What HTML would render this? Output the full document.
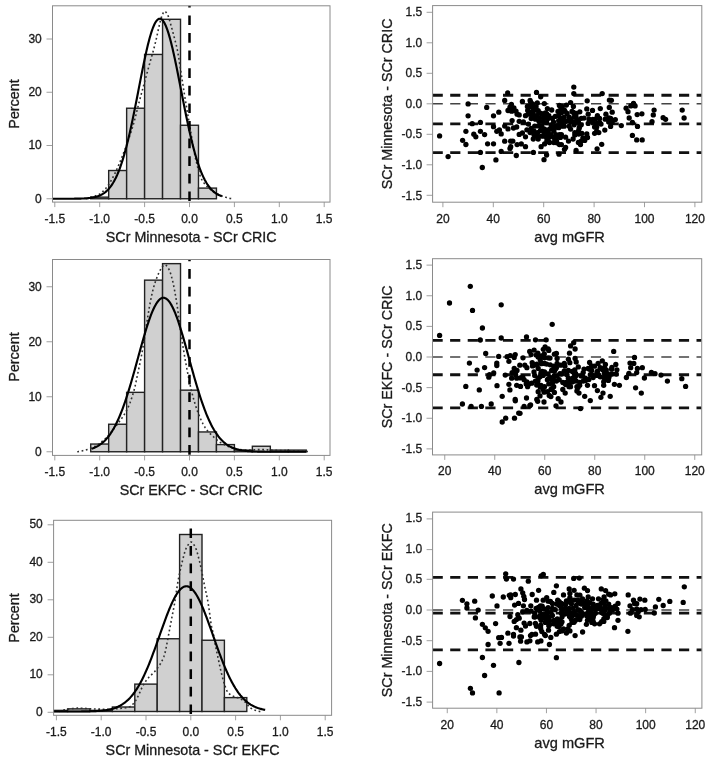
<!DOCTYPE html>
<html><head><meta charset="utf-8"><title>Figure</title>
<style>html,body{margin:0;padding:0;background:#fff}svg{display:block}</style></head>
<body>
<svg width="708" height="760" viewBox="0 0 708 760" font-family="'Liberation Sans', sans-serif" >
<rect width="708" height="760" fill="#fff"/>
<style>text{stroke:#1a1a1a;stroke-width:0.3px}</style>
<clipPath id="c1"><rect x="52.5" y="5.8" width="277.5" height="196.29999999999998"/></clipPath>
<line x1="54.80" y1="202.1" x2="54.80" y2="207.1" stroke="#a0a0a0" stroke-width="1"/>
<text x="54.80" y="222.5" font-size="12" text-anchor="middle" fill="#1a1a1a">-1.5</text>
<line x1="99.70" y1="202.1" x2="99.70" y2="207.1" stroke="#a0a0a0" stroke-width="1"/>
<text x="99.70" y="222.5" font-size="12" text-anchor="middle" fill="#1a1a1a">-1.0</text>
<line x1="144.60" y1="202.1" x2="144.60" y2="207.1" stroke="#a0a0a0" stroke-width="1"/>
<text x="144.60" y="222.5" font-size="12" text-anchor="middle" fill="#1a1a1a">-0.5</text>
<line x1="189.50" y1="202.1" x2="189.50" y2="207.1" stroke="#a0a0a0" stroke-width="1"/>
<text x="189.50" y="222.5" font-size="12" text-anchor="middle" fill="#1a1a1a">0.0</text>
<line x1="234.40" y1="202.1" x2="234.40" y2="207.1" stroke="#a0a0a0" stroke-width="1"/>
<text x="234.40" y="222.5" font-size="12" text-anchor="middle" fill="#1a1a1a">0.5</text>
<line x1="279.30" y1="202.1" x2="279.30" y2="207.1" stroke="#a0a0a0" stroke-width="1"/>
<text x="279.30" y="222.5" font-size="12" text-anchor="middle" fill="#1a1a1a">1.0</text>
<line x1="324.20" y1="202.1" x2="324.20" y2="207.1" stroke="#a0a0a0" stroke-width="1"/>
<text x="324.20" y="222.5" font-size="12" text-anchor="middle" fill="#1a1a1a">1.5</text>
<line x1="46.5" y1="198.75" x2="52.5" y2="198.75" stroke="#a0a0a0" stroke-width="1"/>
<text x="41.8" y="202.55" font-size="12" text-anchor="end" fill="#1a1a1a">0</text>
<line x1="46.5" y1="145.50" x2="52.5" y2="145.50" stroke="#a0a0a0" stroke-width="1"/>
<text x="41.8" y="149.30" font-size="12" text-anchor="end" fill="#1a1a1a">10</text>
<line x1="46.5" y1="92.25" x2="52.5" y2="92.25" stroke="#a0a0a0" stroke-width="1"/>
<text x="41.8" y="96.05" font-size="12" text-anchor="end" fill="#1a1a1a">20</text>
<line x1="46.5" y1="39.00" x2="52.5" y2="39.00" stroke="#a0a0a0" stroke-width="1"/>
<text x="41.8" y="42.80" font-size="12" text-anchor="end" fill="#1a1a1a">30</text>
<text x="191.2" y="241.8" font-size="14.3" text-anchor="middle" fill="#1a1a1a">SCr Minnesota - SCr CRIC</text>
<text transform="translate(18.6,104) rotate(-90)" font-size="14.3" text-anchor="middle" fill="#1a1a1a">Percent</text>
<g clip-path="url(#c1)">
<rect x="90.72" y="197.15" width="17.96" height="1.60" fill="#d0d0d0" stroke="#222" stroke-width="1.4"/>
<rect x="108.68" y="170.53" width="17.96" height="28.22" fill="#d0d0d0" stroke="#222" stroke-width="1.4"/>
<rect x="126.64" y="108.22" width="17.96" height="90.53" fill="#d0d0d0" stroke="#222" stroke-width="1.4"/>
<rect x="144.60" y="54.44" width="17.96" height="144.31" fill="#d0d0d0" stroke="#222" stroke-width="1.4"/>
<rect x="162.56" y="19.30" width="17.96" height="179.45" fill="#d0d0d0" stroke="#222" stroke-width="1.4"/>
<rect x="180.52" y="125.27" width="17.96" height="73.48" fill="#d0d0d0" stroke="#222" stroke-width="1.4"/>
<rect x="198.48" y="188.10" width="17.96" height="10.65" fill="#d0d0d0" stroke="#222" stroke-width="1.4"/>
<polyline points="86.23,198.75 86.71,198.63 87.20,198.50 87.68,198.38 88.17,198.24 88.65,198.10 89.14,197.96 89.62,197.82 90.11,197.67 90.59,197.52 91.08,197.36 91.56,197.21 92.05,197.04 92.53,196.88 93.02,196.72 93.50,196.55 93.99,196.39 94.47,196.22 94.96,196.05 95.44,195.87 95.93,195.69 96.41,195.51 96.90,195.31 97.38,195.11 97.87,194.89 98.35,194.66 98.84,194.42 99.32,194.17 99.81,193.90 100.29,193.60 100.78,193.26 101.26,192.90 101.75,192.51 102.23,192.10 102.72,191.66 103.20,191.20 103.69,190.72 104.17,190.21 104.66,189.70 105.14,189.16 105.63,188.62 106.11,188.06 106.60,187.47 107.08,186.85 107.57,186.20 108.05,185.51 108.54,184.80 109.02,184.06 109.51,183.29 109.99,182.49 110.48,181.68 110.96,180.84 111.45,179.99 111.93,179.12 112.42,178.24 112.90,177.34 113.39,176.44 113.87,175.52 114.36,174.59 114.84,173.63 115.33,172.63 115.81,171.61 116.30,170.55 116.78,169.47 117.26,168.37 117.75,167.25 118.23,166.11 118.72,164.96 119.20,163.79 119.69,162.62 120.17,161.44 120.66,160.26 121.14,159.08 121.63,157.89 122.11,156.69 122.60,155.48 123.08,154.26 123.57,153.02 124.05,151.76 124.54,150.50 125.02,149.22 125.51,147.92 125.99,146.60 126.48,145.27 126.96,143.93 127.45,142.56 127.93,141.18 128.42,139.78 128.90,138.38 129.39,136.95 129.87,135.51 130.36,134.04 130.84,132.56 131.33,131.05 131.81,129.51 132.30,127.95 132.78,126.36 133.27,124.73 133.75,123.07 134.24,121.36 134.72,119.57 135.21,117.72 135.69,115.82 136.18,113.90 136.66,111.95 137.15,109.99 137.63,108.03 138.12,106.09 138.60,104.18 139.09,102.31 139.57,100.48 140.06,98.68 140.54,96.89 141.03,95.10 141.51,93.33 142.00,91.56 142.48,89.80 142.97,88.03 143.45,86.25 143.94,84.47 144.42,82.67 144.91,80.88 145.39,79.08 145.88,77.28 146.36,75.49 146.84,73.70 147.33,71.93 147.81,70.17 148.30,68.42 148.78,66.69 149.27,64.96 149.75,63.24 150.24,61.52 150.72,59.81 151.21,58.10 151.69,56.42 152.18,54.75 152.66,53.05 153.15,51.31 153.63,49.51 154.12,47.67 154.60,45.79 155.09,43.87 155.57,41.91 156.06,39.91 156.54,37.83 157.03,35.63 157.51,33.35 158.00,31.06 158.48,28.84 158.97,26.75 159.45,24.72 159.94,22.68 160.42,20.71 160.91,18.90 161.39,17.35 161.88,16.10 162.36,14.88 162.85,13.72 163.33,12.69 163.82,11.89 164.30,11.41 164.79,11.33 165.27,11.54 165.76,11.97 166.24,12.56 166.73,13.27 167.21,14.04 167.70,14.86 168.18,15.95 168.67,17.33 169.15,18.89 169.64,20.58 170.12,22.29 170.61,23.97 171.09,25.62 171.58,27.33 172.06,29.10 172.55,30.91 173.03,32.75 173.52,34.62 174.00,36.50 174.49,38.37 174.97,40.21 175.46,42.04 175.94,43.92 176.43,45.87 176.91,47.95 177.39,50.19 177.88,52.68 178.36,55.47 178.85,58.48 179.33,61.62 179.82,64.82 180.30,67.98 180.79,71.06 181.27,74.18 181.76,77.32 182.24,80.48 182.73,83.63 183.21,86.75 183.70,89.81 184.18,92.83 184.67,95.81 185.15,98.78 185.64,101.72 186.12,104.64 186.61,107.55 187.09,110.45 187.58,113.34 188.06,116.22 188.55,119.09 189.03,121.94 189.52,124.78 190.00,127.60 190.49,130.39 190.97,133.17 191.46,136.00 191.94,138.88 192.43,141.77 192.91,144.64 193.40,147.46 193.88,150.19 194.37,152.80 194.85,155.25 195.34,157.50 195.82,159.57 196.31,161.62 196.79,163.63 197.28,165.61 197.76,167.53 198.25,169.39 198.73,171.16 199.22,172.84 199.70,174.41 200.19,175.86 200.67,177.18 201.16,178.34 201.64,179.34 202.13,180.18 202.61,180.97 203.10,181.71 203.58,182.42 204.07,183.10 204.55,183.74 205.04,184.35 205.52,184.93 206.01,185.49 206.49,186.02 206.98,186.52 207.46,187.00 207.94,187.46 208.43,187.90 208.91,188.32 209.40,188.72 209.88,189.11 210.37,189.49 210.85,189.85 211.34,190.20 211.82,190.55 212.31,190.89 212.79,191.22 213.28,191.54 213.76,191.85 214.25,192.15 214.73,192.45 215.22,192.73 215.70,193.01 216.19,193.29 216.67,193.55 217.16,193.80 217.64,194.05 218.13,194.29 218.61,194.53 219.10,194.76 219.58,194.98 220.07,195.19 220.55,195.40 221.04,195.60 221.52,195.79 222.01,195.98 222.49,196.16 222.98,196.34 223.46,196.51 223.95,196.68 224.43,196.84 224.92,197.00 225.40,197.16 225.89,197.31 226.37,197.46 226.86,197.60 227.34,197.74 227.83,197.88 228.31,198.01 228.80,198.13 229.28,198.25 229.77,198.36 230.25,198.47 230.74,198.57 231.22,198.66 231.71,198.75" fill="none" stroke="#303030" stroke-width="1.6" stroke-dasharray="1.8 2.6"/>
<polyline points="45.82,198.75 46.41,198.75 46.99,198.75 47.58,198.75 48.17,198.75 48.75,198.75 49.34,198.75 49.93,198.75 50.51,198.75 51.10,198.75 51.69,198.75 52.27,198.75 52.86,198.75 53.45,198.75 54.03,198.75 54.62,198.75 55.21,198.75 55.79,198.75 56.38,198.75 56.97,198.75 57.55,198.75 58.14,198.75 58.73,198.75 59.31,198.75 59.90,198.75 60.49,198.75 61.07,198.75 61.66,198.75 62.25,198.75 62.83,198.74 63.42,198.74 64.01,198.74 64.59,198.74 65.18,198.74 65.77,198.74 66.35,198.74 66.94,198.74 67.53,198.74 68.11,198.73 68.70,198.73 69.29,198.73 69.87,198.73 70.46,198.72 71.05,198.72 71.63,198.72 72.22,198.71 72.81,198.71 73.39,198.71 73.98,198.70 74.57,198.69 75.15,198.69 75.74,198.68 76.33,198.67 76.91,198.66 77.50,198.65 78.09,198.64 78.67,198.63 79.26,198.62 79.85,198.60 80.43,198.59 81.02,198.57 81.61,198.55 82.19,198.53 82.78,198.50 83.37,198.48 83.96,198.45 84.54,198.42 85.13,198.39 85.72,198.35 86.30,198.31 86.89,198.26 87.48,198.22 88.06,198.16 88.65,198.11 89.24,198.04 89.82,197.97 90.41,197.90 91.00,197.82 91.58,197.73 92.17,197.64 92.76,197.54 93.34,197.43 93.93,197.31 94.52,197.18 95.10,197.04 95.69,196.89 96.28,196.73 96.86,196.55 97.45,196.37 98.04,196.17 98.62,195.95 99.21,195.72 99.80,195.47 100.38,195.20 100.97,194.92 101.56,194.61 102.14,194.29 102.73,193.94 103.32,193.57 103.90,193.18 104.49,192.76 105.08,192.31 105.66,191.84 106.25,191.33 106.84,190.80 107.42,190.23 108.01,189.64 108.60,189.00 109.18,188.33 109.77,187.62 110.36,186.88 110.94,186.09 111.53,185.26 112.12,184.39 112.70,183.47 113.29,182.51 113.88,181.50 114.46,180.44 115.05,179.33 115.64,178.17 116.22,176.96 116.81,175.69 117.40,174.37 117.98,172.99 118.57,171.56 119.16,170.07 119.74,168.51 120.33,166.90 120.92,165.23 121.50,163.50 122.09,161.71 122.68,159.85 123.26,157.94 123.85,155.96 124.44,153.92 125.02,151.82 125.61,149.66 126.20,147.44 126.78,145.16 127.37,142.82 127.96,140.43 128.54,137.97 129.13,135.47 129.72,132.91 130.30,130.30 130.89,127.64 131.48,124.93 132.06,122.18 132.65,119.39 133.24,116.56 133.82,113.69 134.41,110.79 135.00,107.86 135.58,104.91 136.17,101.93 136.76,98.94 137.34,95.93 137.93,92.92 138.52,89.89 139.10,86.87 139.69,83.85 140.28,80.85 140.86,77.85 141.45,74.87 142.04,71.92 142.62,69.00 143.21,66.11 143.80,63.26 144.38,60.45 144.97,57.70 145.56,55.00 146.14,52.36 146.73,49.79 147.32,47.29 147.90,44.86 148.49,42.52 149.08,40.26 149.66,38.09 150.25,36.01 150.84,34.04 151.42,32.17 152.01,30.41 152.60,28.75 153.18,27.22 153.77,25.80 154.36,24.51 154.94,23.34 155.53,22.29 156.12,21.38 156.71,20.60 157.29,19.95 157.88,19.44 158.47,19.06 159.05,18.82 159.64,18.72 160.23,18.76 160.81,18.93 161.40,19.25 161.99,19.69 162.57,20.28 163.16,21.00 163.75,21.85 164.33,22.83 164.92,23.94 165.51,25.18 166.09,26.54 166.68,28.02 167.27,29.62 167.85,31.33 168.44,33.15 169.03,35.07 169.61,37.10 170.20,39.23 170.79,41.44 171.37,43.75 171.96,46.14 172.55,48.61 173.13,51.15 173.72,53.75 174.31,56.43 174.89,59.15 175.48,61.94 176.07,64.77 176.65,67.64 177.24,70.54 177.83,73.48 178.41,76.45 179.00,79.44 179.59,82.44 180.17,85.46 180.76,88.48 181.35,91.50 181.93,94.52 182.52,97.53 183.11,100.53 183.69,103.52 184.28,106.48 184.87,109.42 185.45,112.33 186.04,115.22 186.63,118.07 187.21,120.88 187.80,123.65 188.39,126.37 188.97,129.06 189.56,131.69 190.15,134.27 190.73,136.80 191.32,139.28 191.91,141.70 192.49,144.07 193.08,146.38 193.67,148.63 194.25,150.82 194.84,152.94 195.43,155.01 196.01,157.02 196.60,158.96 197.19,160.85 197.77,162.67 198.36,164.43 198.95,166.13 199.53,167.77 200.12,169.35 200.71,170.87 201.29,172.33 201.88,173.73 202.47,175.08 203.05,176.37 203.64,177.61 204.23,178.80 204.81,179.93 205.40,181.01 205.99,182.04 206.57,183.03 207.16,183.97 207.75,184.86 208.33,185.71 208.92,186.51 209.51,187.28 210.09,188.00 210.68,188.69 211.27,189.34 211.85,189.96 212.44,190.54 213.03,191.09 213.61,191.61 214.20,192.09 214.79,192.55 215.37,192.98 215.96,193.39 216.55,193.77 217.13,194.13 217.72,194.46 218.31,194.78 218.89,195.07 219.48,195.35 220.07,195.60 220.65,195.84 221.24,196.07 221.83,196.27" fill="none" stroke="#000" stroke-width="2.15" stroke-linejoin="round"/>
<line x1="189.50" y1="-2.2" x2="189.50" y2="202.1" stroke="#000" stroke-width="2.5" stroke-dasharray="9.7 7.9"/>
</g>
<rect x="52.5" y="5.8" width="277.5" height="196.29999999999998" fill="none" stroke="#8a8a8a" stroke-width="1"/>
<clipPath id="c2"><rect x="52.5" y="259.5" width="277.5" height="195.89999999999998"/></clipPath>
<line x1="54.80" y1="455.4" x2="54.80" y2="460.4" stroke="#a0a0a0" stroke-width="1"/>
<text x="54.80" y="475.5" font-size="12" text-anchor="middle" fill="#1a1a1a">-1.5</text>
<line x1="99.70" y1="455.4" x2="99.70" y2="460.4" stroke="#a0a0a0" stroke-width="1"/>
<text x="99.70" y="475.5" font-size="12" text-anchor="middle" fill="#1a1a1a">-1.0</text>
<line x1="144.60" y1="455.4" x2="144.60" y2="460.4" stroke="#a0a0a0" stroke-width="1"/>
<text x="144.60" y="475.5" font-size="12" text-anchor="middle" fill="#1a1a1a">-0.5</text>
<line x1="189.50" y1="455.4" x2="189.50" y2="460.4" stroke="#a0a0a0" stroke-width="1"/>
<text x="189.50" y="475.5" font-size="12" text-anchor="middle" fill="#1a1a1a">0.0</text>
<line x1="234.40" y1="455.4" x2="234.40" y2="460.4" stroke="#a0a0a0" stroke-width="1"/>
<text x="234.40" y="475.5" font-size="12" text-anchor="middle" fill="#1a1a1a">0.5</text>
<line x1="279.30" y1="455.4" x2="279.30" y2="460.4" stroke="#a0a0a0" stroke-width="1"/>
<text x="279.30" y="475.5" font-size="12" text-anchor="middle" fill="#1a1a1a">1.0</text>
<line x1="324.20" y1="455.4" x2="324.20" y2="460.4" stroke="#a0a0a0" stroke-width="1"/>
<text x="324.20" y="475.5" font-size="12" text-anchor="middle" fill="#1a1a1a">1.5</text>
<line x1="46.5" y1="451.75" x2="52.5" y2="451.75" stroke="#a0a0a0" stroke-width="1"/>
<text x="41.8" y="455.55" font-size="12" text-anchor="end" fill="#1a1a1a">0</text>
<line x1="46.5" y1="396.75" x2="52.5" y2="396.75" stroke="#a0a0a0" stroke-width="1"/>
<text x="41.8" y="400.55" font-size="12" text-anchor="end" fill="#1a1a1a">10</text>
<line x1="46.5" y1="341.75" x2="52.5" y2="341.75" stroke="#a0a0a0" stroke-width="1"/>
<text x="41.8" y="345.55" font-size="12" text-anchor="end" fill="#1a1a1a">20</text>
<line x1="46.5" y1="286.75" x2="52.5" y2="286.75" stroke="#a0a0a0" stroke-width="1"/>
<text x="41.8" y="290.55" font-size="12" text-anchor="end" fill="#1a1a1a">30</text>
<text x="191.2" y="494.5" font-size="14.3" text-anchor="middle" fill="#1a1a1a">SCr EKFC - SCr CRIC</text>
<text transform="translate(18.6,357) rotate(-90)" font-size="14.3" text-anchor="middle" fill="#1a1a1a">Percent</text>
<g clip-path="url(#c2)">
<rect x="90.72" y="444.05" width="17.96" height="7.70" fill="#d0d0d0" stroke="#222" stroke-width="1.4"/>
<rect x="108.68" y="424.25" width="17.96" height="27.50" fill="#d0d0d0" stroke="#222" stroke-width="1.4"/>
<rect x="126.64" y="392.35" width="17.96" height="59.40" fill="#d0d0d0" stroke="#222" stroke-width="1.4"/>
<rect x="144.60" y="280.15" width="17.96" height="171.60" fill="#d0d0d0" stroke="#222" stroke-width="1.4"/>
<rect x="162.56" y="263.65" width="17.96" height="188.10" fill="#d0d0d0" stroke="#222" stroke-width="1.4"/>
<rect x="180.52" y="390.15" width="17.96" height="61.60" fill="#d0d0d0" stroke="#222" stroke-width="1.4"/>
<rect x="198.48" y="431.95" width="17.96" height="19.80" fill="#d0d0d0" stroke="#222" stroke-width="1.4"/>
<rect x="216.44" y="444.60" width="17.96" height="7.15" fill="#d0d0d0" stroke="#222" stroke-width="1.4"/>
<rect x="234.40" y="450.10" width="17.96" height="1.65" fill="#d0d0d0" stroke="#222" stroke-width="1.4"/>
<rect x="252.36" y="446.25" width="17.96" height="5.50" fill="#d0d0d0" stroke="#222" stroke-width="1.4"/>
<rect x="270.32" y="450.10" width="17.96" height="1.65" fill="#d0d0d0" stroke="#222" stroke-width="1.4"/>
<rect x="288.28" y="450.10" width="17.96" height="1.65" fill="#d0d0d0" stroke="#222" stroke-width="1.4"/>
<polyline points="77.25,451.75 78.03,451.65 78.80,451.53 79.58,451.40 80.35,451.25 81.13,451.10 81.90,450.93 82.68,450.75 83.45,450.56 84.23,450.36 85.00,450.16 85.78,449.95 86.55,449.73 87.33,449.50 88.10,449.26 88.88,448.99 89.65,448.71 90.43,448.42 91.20,448.11 91.98,447.78 92.76,447.44 93.53,447.08 94.31,446.71 95.08,446.32 95.86,445.90 96.63,445.45 97.41,444.97 98.18,444.45 98.96,443.90 99.73,443.33 100.51,442.73 101.28,442.12 102.06,441.48 102.83,440.82 103.61,440.16 104.38,439.48 105.16,438.76 105.94,438.01 106.71,437.21 107.49,436.39 108.26,435.54 109.04,434.66 109.81,433.77 110.59,432.87 111.36,431.96 112.14,431.04 112.91,430.09 113.69,429.12 114.46,428.12 115.24,427.11 116.01,426.09 116.79,425.05 117.56,424.01 118.34,422.96 119.11,421.90 119.89,420.86 120.67,419.82 121.44,418.76 122.22,417.66 122.99,416.52 123.77,415.31 124.54,414.04 125.32,412.72 126.09,411.34 126.87,409.88 127.64,408.33 128.42,406.69 129.19,404.90 129.97,402.93 130.74,400.81 131.52,398.58 132.29,396.23 133.07,393.73 133.84,391.06 134.62,388.16 135.40,384.89 136.17,381.17 136.95,377.36 137.72,373.71 138.50,370.08 139.27,366.41 140.05,362.67 140.82,358.88 141.60,354.94 142.37,350.72 143.15,346.22 143.92,341.53 144.70,336.73 145.47,331.71 146.25,326.53 147.02,321.45 147.80,316.59 148.58,311.80 149.35,307.21 150.13,303.00 150.90,299.10 151.68,295.39 152.45,291.94 153.23,288.82 154.00,286.06 154.78,283.52 155.55,281.19 156.33,279.03 157.10,277.02 157.88,275.10 158.65,273.25 159.43,271.54 160.20,270.05 160.98,268.83 161.75,267.67 162.53,266.55 163.31,265.61 164.08,264.97 164.86,264.75 165.63,265.01 166.41,265.65 167.18,266.59 167.96,267.73 168.73,268.97 169.51,270.47 170.28,272.55 171.06,275.06 171.83,277.86 172.61,280.82 173.38,284.23 174.16,288.12 174.93,292.27 175.71,296.60 176.48,301.28 177.26,306.31 178.04,311.90 178.81,317.99 179.59,323.89 180.36,329.33 181.14,334.58 181.91,339.67 182.69,344.64 183.46,349.51 184.24,354.21 185.01,358.70 185.79,362.99 186.56,367.13 187.34,371.16 188.11,375.16 188.89,379.06 189.66,382.81 190.44,386.33 191.22,389.67 191.99,392.85 192.77,395.87 193.54,398.72 194.32,401.44 195.09,404.05 195.87,406.55 196.64,408.90 197.42,411.09 198.19,413.16 198.97,415.13 199.74,417.01 200.52,418.79 201.29,420.47 202.07,422.04 202.84,423.54 203.62,424.97 204.39,426.34 205.17,427.62 205.95,428.81 206.72,429.88 207.50,430.85 208.27,431.74 209.05,432.57 209.82,433.35 210.60,434.10 211.37,434.83 212.15,435.56 212.92,436.30 213.70,437.04 214.47,437.77 215.25,438.49 216.02,439.19 216.80,439.85 217.57,440.48 218.35,441.06 219.13,441.60 219.90,442.11 220.68,442.60 221.45,443.07 222.23,443.52 223.00,443.95 223.78,444.37 224.55,444.76 225.33,445.13 226.10,445.49 226.88,445.83 227.65,446.16 228.43,446.49 229.20,446.82 229.98,447.15 230.75,447.46 231.53,447.75 232.30,448.03 233.08,448.28 233.86,448.51 234.63,448.71 235.41,448.88 236.18,449.01 236.96,449.13 237.73,449.24 238.51,449.35 239.28,449.45 240.06,449.55 240.83,449.64 241.61,449.73 242.38,449.81 243.16,449.88 243.93,449.94 244.71,450.00 245.48,450.04 246.26,450.07 247.03,450.09 247.81,450.10 248.59,450.10 249.36,450.08 250.14,450.06 250.91,450.03 251.69,449.99 252.46,449.95 253.24,449.91 254.01,449.86 254.79,449.81 255.56,449.77 256.34,449.72 257.11,449.68 257.89,449.64 258.66,449.61 259.44,449.58 260.21,449.56 260.99,449.55 261.77,449.55 262.54,449.57 263.32,449.59 264.09,449.63 264.87,449.67 265.64,449.72 266.42,449.78 267.19,449.84 267.97,449.90 268.74,449.97 269.52,450.03 270.29,450.10 271.07,450.16 271.84,450.22 272.62,450.27 273.39,450.31 274.17,450.35 274.94,450.38 275.72,450.40 276.50,450.42 277.27,450.44 278.05,450.46 278.82,450.47 279.60,450.49 280.37,450.50 281.15,450.51 281.92,450.52 282.70,450.54 283.47,450.55 284.25,450.56 285.02,450.58 285.80,450.59 286.57,450.61 287.35,450.63 288.12,450.65 288.90,450.67 289.67,450.69 290.45,450.71 291.23,450.74 292.00,450.77 292.78,450.80 293.55,450.82 294.33,450.85 295.10,450.89 295.88,450.92 296.65,450.95 297.43,450.99 298.20,451.02 298.98,451.06 299.75,451.10 300.53,451.14 301.30,451.18 302.08,451.22 302.85,451.26 303.63,451.31 304.41,451.36 305.18,451.41 305.96,451.46 306.73,451.52 307.51,451.57 308.28,451.63 309.06,451.69 309.83,451.75" fill="none" stroke="#303030" stroke-width="1.6" stroke-dasharray="1.8 2.6"/>
<polyline points="91.62,448.75 92.33,448.51 93.05,448.25 93.76,447.97 94.48,447.68 95.20,447.36 95.91,447.02 96.63,446.66 97.34,446.28 98.06,445.87 98.77,445.44 99.49,444.98 100.20,444.49 100.92,443.97 101.63,443.43 102.35,442.85 103.06,442.24 103.78,441.59 104.50,440.91 105.21,440.20 105.93,439.44 106.64,438.65 107.36,437.82 108.07,436.94 108.79,436.02 109.50,435.06 110.22,434.06 110.93,433.01 111.65,431.91 112.36,430.76 113.08,429.56 113.80,428.32 114.51,427.02 115.23,425.67 115.94,424.27 116.66,422.82 117.37,421.32 118.09,419.76 118.80,418.15 119.52,416.48 120.23,414.76 120.95,412.99 121.67,411.16 122.38,409.28 123.10,407.35 123.81,405.37 124.53,403.33 125.24,401.25 125.96,399.12 126.67,396.94 127.39,394.72 128.10,392.45 128.82,390.14 129.53,387.78 130.25,385.40 130.97,382.97 131.68,380.52 132.40,378.03 133.11,375.51 133.83,372.98 134.54,370.42 135.26,367.84 135.97,365.25 136.69,362.65 137.40,360.04 138.12,357.43 138.83,354.82 139.55,352.22 140.27,349.62 140.98,347.04 141.70,344.48 142.41,341.95 143.13,339.44 143.84,336.96 144.56,334.52 145.27,332.12 145.99,329.77 146.70,327.47 147.42,325.22 148.14,323.04 148.85,320.92 149.57,318.86 150.28,316.89 151.00,314.98 151.71,313.16 152.43,311.43 153.14,309.78 153.86,308.23 154.57,306.78 155.29,305.42 156.00,304.17 156.72,303.02 157.44,301.98 158.15,301.05 158.87,300.23 159.58,299.53 160.30,298.94 161.01,298.47 161.73,298.12 162.44,297.89 163.16,297.78 163.87,297.79 164.59,297.92 165.30,298.17 166.02,298.54 166.74,299.03 167.45,299.64 168.17,300.36 168.88,301.19 169.60,302.14 170.31,303.20 171.03,304.36 171.74,305.63 172.46,307.01 173.17,308.48 173.89,310.05 174.61,311.71 175.32,313.46 176.04,315.29 176.75,317.20 177.47,319.19 178.18,321.26 178.90,323.39 179.61,325.59 180.33,327.84 181.04,330.15 181.76,332.51 182.47,334.92 183.19,337.36 183.91,339.85 184.62,342.36 185.34,344.90 186.05,347.46 186.77,350.05 187.48,352.64 188.20,355.25 188.91,357.86 189.63,360.47 190.34,363.07 191.06,365.67 191.77,368.26 192.49,370.84 193.21,373.39 193.92,375.93 194.64,378.44 195.35,380.92 196.07,383.37 196.78,385.79 197.50,388.17 198.21,390.52 198.93,392.82 199.64,395.08 200.36,397.30 201.08,399.47 201.79,401.59 202.51,403.67 203.22,405.69 203.94,407.67 204.65,409.59 205.37,411.46 206.08,413.28 206.80,415.04 207.51,416.76 208.23,418.41 208.94,420.02 209.66,421.57 210.38,423.06 211.09,424.51 211.81,425.90 212.52,427.24 213.24,428.52 213.95,429.76 214.67,430.95 215.38,432.09 216.10,433.18 216.81,434.23 217.53,435.22 218.24,436.18 218.96,437.09 219.68,437.96 220.39,438.78 221.11,439.57 221.82,440.32 222.54,441.03 223.25,441.70 223.97,442.34 224.68,442.95 225.40,443.52 226.11,444.06 226.83,444.57 227.55,445.05 228.26,445.51 228.98,445.94 229.69,446.34 230.41,446.72 231.12,447.08 231.84,447.41 232.55,447.73 233.27,448.02 233.98,448.29 234.70,448.55 235.41,448.79 236.13,449.02 236.85,449.23 237.56,449.42 238.28,449.60 238.99,449.77 239.71,449.93 240.42,450.08 241.14,450.21 241.85,450.34 242.57,450.45 243.28,450.56 244.00,450.66 244.72,450.75 245.43,450.84 246.15,450.92 246.86,450.99 247.58,451.06 248.29,451.12 249.01,451.17 249.72,451.22 250.44,451.27 251.15,451.32 251.87,451.36 252.58,451.39 253.30,451.43 254.02,451.46 254.73,451.48 255.45,451.51 256.16,451.53 256.88,451.55 257.59,451.57 258.31,451.59 259.02,451.61 259.74,451.62 260.45,451.63 261.17,451.64 261.88,451.66 262.60,451.67 263.32,451.67 264.03,451.68 264.75,451.69 265.46,451.70 266.18,451.70 266.89,451.71 267.61,451.71 268.32,451.72 269.04,451.72 269.75,451.72 270.47,451.73 271.19,451.73 271.90,451.73 272.62,451.73 273.33,451.73 274.05,451.74 274.76,451.74 275.48,451.74 276.19,451.74 276.91,451.74 277.62,451.74 278.34,451.74 279.05,451.74 279.77,451.74 280.49,451.75 281.20,451.75 281.92,451.75 282.63,451.75 283.35,451.75 284.06,451.75 284.78,451.75 285.49,451.75 286.21,451.75 286.92,451.75 287.64,451.75 288.35,451.75 289.07,451.75 289.79,451.75 290.50,451.75 291.22,451.75 291.93,451.75 292.65,451.75 293.36,451.75 294.08,451.75 294.79,451.75 295.51,451.75 296.22,451.75 296.94,451.75 297.66,451.75 298.37,451.75 299.09,451.75 299.80,451.75 300.52,451.75 301.23,451.75 301.95,451.75 302.66,451.75 303.38,451.75 304.09,451.75 304.81,451.75 305.52,451.75 306.24,451.75" fill="none" stroke="#000" stroke-width="2.15" stroke-linejoin="round"/>
<line x1="189.50" y1="251.5" x2="189.50" y2="455.4" stroke="#000" stroke-width="2.5" stroke-dasharray="9.7 7.9"/>
</g>
<rect x="52.5" y="259.5" width="277.5" height="195.89999999999998" fill="none" stroke="#8a8a8a" stroke-width="1"/>
<clipPath id="c3"><rect x="53.6" y="520.3" width="278.0" height="195.0"/></clipPath>
<line x1="56.40" y1="715.3" x2="56.40" y2="720.3" stroke="#a0a0a0" stroke-width="1"/>
<text x="56.40" y="735.6" font-size="12" text-anchor="middle" fill="#1a1a1a">-1.5</text>
<line x1="101.20" y1="715.3" x2="101.20" y2="720.3" stroke="#a0a0a0" stroke-width="1"/>
<text x="101.20" y="735.6" font-size="12" text-anchor="middle" fill="#1a1a1a">-1.0</text>
<line x1="146.00" y1="715.3" x2="146.00" y2="720.3" stroke="#a0a0a0" stroke-width="1"/>
<text x="146.00" y="735.6" font-size="12" text-anchor="middle" fill="#1a1a1a">-0.5</text>
<line x1="190.80" y1="715.3" x2="190.80" y2="720.3" stroke="#a0a0a0" stroke-width="1"/>
<text x="190.80" y="735.6" font-size="12" text-anchor="middle" fill="#1a1a1a">0.0</text>
<line x1="235.60" y1="715.3" x2="235.60" y2="720.3" stroke="#a0a0a0" stroke-width="1"/>
<text x="235.60" y="735.6" font-size="12" text-anchor="middle" fill="#1a1a1a">0.5</text>
<line x1="280.40" y1="715.3" x2="280.40" y2="720.3" stroke="#a0a0a0" stroke-width="1"/>
<text x="280.40" y="735.6" font-size="12" text-anchor="middle" fill="#1a1a1a">1.0</text>
<line x1="325.20" y1="715.3" x2="325.20" y2="720.3" stroke="#a0a0a0" stroke-width="1"/>
<text x="325.20" y="735.6" font-size="12" text-anchor="middle" fill="#1a1a1a">1.5</text>
<line x1="47.6" y1="712.30" x2="53.6" y2="712.30" stroke="#a0a0a0" stroke-width="1"/>
<text x="42.8" y="715.90" font-size="12" text-anchor="end" fill="#1a1a1a">0</text>
<line x1="47.6" y1="674.80" x2="53.6" y2="674.80" stroke="#a0a0a0" stroke-width="1"/>
<text x="42.8" y="678.40" font-size="12" text-anchor="end" fill="#1a1a1a">10</text>
<line x1="47.6" y1="637.30" x2="53.6" y2="637.30" stroke="#a0a0a0" stroke-width="1"/>
<text x="42.8" y="640.90" font-size="12" text-anchor="end" fill="#1a1a1a">20</text>
<line x1="47.6" y1="599.80" x2="53.6" y2="599.80" stroke="#a0a0a0" stroke-width="1"/>
<text x="42.8" y="603.40" font-size="12" text-anchor="end" fill="#1a1a1a">30</text>
<line x1="47.6" y1="562.30" x2="53.6" y2="562.30" stroke="#a0a0a0" stroke-width="1"/>
<text x="42.8" y="565.90" font-size="12" text-anchor="end" fill="#1a1a1a">40</text>
<line x1="47.6" y1="524.80" x2="53.6" y2="524.80" stroke="#a0a0a0" stroke-width="1"/>
<text x="42.8" y="528.40" font-size="12" text-anchor="end" fill="#1a1a1a">50</text>
<text x="192.6" y="755.4" font-size="14.3" text-anchor="middle" fill="#1a1a1a">SCr Minnesota - SCr EKFC</text>
<text transform="translate(18.6,618) rotate(-90)" font-size="14.3" text-anchor="middle" fill="#1a1a1a">Percent</text>
<g clip-path="url(#c3)">
<rect x="45.20" y="710.38" width="22.40" height="1.12" fill="#d0d0d0" stroke="#222" stroke-width="1.4"/>
<rect x="67.60" y="708.88" width="22.40" height="2.62" fill="#d0d0d0" stroke="#222" stroke-width="1.4"/>
<rect x="90.00" y="710.38" width="22.40" height="1.12" fill="#d0d0d0" stroke="#222" stroke-width="1.4"/>
<rect x="112.40" y="707.00" width="22.40" height="4.50" fill="#d0d0d0" stroke="#222" stroke-width="1.4"/>
<rect x="134.80" y="684.12" width="22.40" height="27.38" fill="#d0d0d0" stroke="#222" stroke-width="1.4"/>
<rect x="157.20" y="638.75" width="22.40" height="72.75" fill="#d0d0d0" stroke="#222" stroke-width="1.4"/>
<rect x="179.60" y="534.50" width="22.40" height="177.00" fill="#d0d0d0" stroke="#222" stroke-width="1.4"/>
<rect x="202.00" y="640.25" width="22.40" height="71.25" fill="#d0d0d0" stroke="#222" stroke-width="1.4"/>
<rect x="224.40" y="697.62" width="22.40" height="13.88" fill="#d0d0d0" stroke="#222" stroke-width="1.4"/>
<polyline points="59.09,711.50 59.76,711.26 60.43,711.02 61.10,710.79 61.78,710.56 62.45,710.35 63.12,710.15 63.79,709.96 64.46,709.80 65.14,709.67 65.81,709.55 66.48,709.43 67.15,709.32 67.82,709.21 68.50,709.10 69.17,709.00 69.84,708.89 70.51,708.80 71.18,708.70 71.86,708.61 72.53,708.53 73.20,708.46 73.87,708.39 74.54,708.32 75.22,708.27 75.89,708.22 76.56,708.18 77.23,708.15 77.90,708.13 78.58,708.13 79.25,708.13 79.92,708.14 80.59,708.15 81.26,708.18 81.94,708.21 82.61,708.24 83.28,708.28 83.95,708.33 84.62,708.37 85.30,708.42 85.97,708.47 86.64,708.52 87.31,708.57 87.98,708.62 88.66,708.67 89.33,708.72 90.00,708.76 90.67,708.80 91.34,708.84 92.02,708.87 92.69,708.89 93.36,708.92 94.03,708.94 94.70,708.97 95.38,709.00 96.05,709.02 96.72,709.05 97.39,709.07 98.06,709.09 98.74,709.12 99.41,709.14 100.08,709.16 100.75,709.18 101.42,709.20 102.10,709.21 102.77,709.22 103.44,709.23 104.11,709.24 104.78,709.25 105.46,709.25 106.13,709.25 106.80,709.24 107.47,709.23 108.14,709.21 108.82,709.19 109.49,709.16 110.16,709.12 110.83,709.09 111.50,709.05 112.18,709.01 112.85,708.96 113.52,708.91 114.19,708.87 114.86,708.82 115.54,708.77 116.21,708.71 116.88,708.66 117.55,708.61 118.22,708.56 118.90,708.52 119.57,708.47 120.24,708.42 120.91,708.38 121.58,708.32 122.26,708.27 122.93,708.20 123.60,708.12 124.27,708.04 124.94,707.94 125.62,707.82 126.29,707.69 126.96,707.54 127.63,707.36 128.30,707.17 128.98,706.95 129.65,706.71 130.32,706.42 130.99,705.99 131.66,705.44 132.34,704.79 133.01,704.07 133.68,703.30 134.35,702.50 135.02,701.61 135.70,700.57 136.37,699.42 137.04,698.19 137.71,696.92 138.38,695.61 139.06,694.15 139.73,692.60 140.40,691.03 141.07,689.52 141.74,688.13 142.42,686.87 143.09,685.65 143.76,684.46 144.43,683.31 145.10,682.22 145.78,681.17 146.45,680.19 147.12,679.28 147.79,678.44 148.46,677.67 149.14,676.97 149.81,676.31 150.48,675.68 151.15,675.07 151.82,674.46 152.50,673.84 153.17,673.19 153.84,672.50 154.51,671.75 155.18,670.96 155.86,670.16 156.53,669.34 157.20,668.49 157.87,667.60 158.54,666.67 159.22,665.68 159.89,664.63 160.56,663.52 161.23,662.32 161.90,661.06 162.58,659.68 163.25,658.14 163.92,656.42 164.59,654.46 165.26,652.07 165.94,648.89 166.61,645.32 167.28,641.82 167.95,638.30 168.62,634.69 169.30,631.08 169.97,627.52 170.64,623.98 171.31,620.44 171.98,616.91 172.66,613.47 173.33,610.09 174.00,606.64 174.67,602.97 175.34,598.88 176.02,594.12 176.69,589.25 177.36,584.98 178.03,581.22 178.70,577.66 179.38,574.29 180.05,571.10 180.72,568.07 181.39,565.20 182.06,562.47 182.74,559.73 183.41,557.03 184.08,554.45 184.75,552.10 185.42,550.06 186.10,548.43 186.77,547.19 187.44,546.00 188.11,544.88 188.78,543.88 189.46,543.05 190.13,542.43 190.80,542.07 191.47,542.02 192.14,542.37 192.82,543.07 193.49,544.03 194.16,545.17 194.83,546.41 195.50,547.69 196.18,549.31 196.85,551.29 197.52,553.57 198.19,556.06 198.86,558.68 199.54,561.36 200.21,564.11 200.88,567.14 201.55,570.42 202.22,573.84 202.90,577.33 203.57,580.81 204.24,584.19 204.91,587.39 205.58,590.41 206.26,593.39 206.93,596.50 207.60,599.90 208.27,603.79 208.94,608.36 209.62,613.14 210.29,618.38 210.96,623.22 211.63,626.72 212.30,629.60 212.98,632.37 213.65,635.53 214.32,639.19 214.99,643.02 215.66,646.69 216.34,650.00 217.01,653.11 217.68,656.16 218.35,659.25 219.02,662.45 219.70,665.64 220.37,668.72 221.04,671.61 221.71,674.40 222.38,677.05 223.06,679.52 223.73,681.91 224.40,684.16 225.07,686.16 225.74,687.88 226.42,689.53 227.09,691.02 227.76,692.25 228.43,693.12 229.10,693.74 229.78,694.27 230.45,694.73 231.12,695.13 231.79,695.49 232.46,695.81 233.14,696.12 233.81,696.42 234.48,696.71 235.15,696.97 235.82,697.20 236.50,697.41 237.17,697.62 237.84,697.83 238.51,698.05 239.18,698.29 239.86,698.57 240.53,698.88 241.20,699.24 241.87,699.64 242.54,700.08 243.22,700.56 243.89,701.06 244.56,701.60 245.23,702.17 245.90,702.77 246.58,703.50 247.25,704.38 247.92,705.30 248.59,706.18 249.26,706.95 249.94,707.51 250.61,707.97 251.28,708.41 251.95,708.82 252.62,709.19 253.30,709.53 253.97,709.84 254.64,710.11 255.31,710.35 255.98,710.56 256.66,710.75 257.33,710.92 258.00,711.08 258.67,711.22 259.34,711.34 260.02,711.44 260.69,711.50" fill="none" stroke="#303030" stroke-width="1.6" stroke-dasharray="1.8 2.6"/>
<polyline points="47.44,711.50 48.17,711.50 48.89,711.50 49.62,711.50 50.34,711.50 51.07,711.50 51.79,711.50 52.52,711.50 53.25,711.50 53.97,711.50 54.70,711.50 55.42,711.50 56.15,711.50 56.87,711.50 57.60,711.50 58.33,711.50 59.05,711.50 59.78,711.50 60.50,711.50 61.23,711.50 61.96,711.50 62.68,711.50 63.41,711.50 64.13,711.50 64.86,711.50 65.58,711.50 66.31,711.49 67.04,711.49 67.76,711.49 68.49,711.49 69.21,711.49 69.94,711.49 70.66,711.49 71.39,711.49 72.12,711.49 72.84,711.48 73.57,711.48 74.29,711.48 75.02,711.48 75.74,711.48 76.47,711.47 77.20,711.47 77.92,711.47 78.65,711.46 79.37,711.46 80.10,711.45 80.82,711.45 81.55,711.44 82.28,711.43 83.00,711.43 83.73,711.42 84.45,711.41 85.18,711.40 85.91,711.39 86.63,711.38 87.36,711.37 88.08,711.35 88.81,711.34 89.53,711.32 90.26,711.30 90.99,711.28 91.71,711.26 92.44,711.23 93.16,711.21 93.89,711.18 94.61,711.15 95.34,711.11 96.07,711.08 96.79,711.04 97.52,710.99 98.24,710.94 98.97,710.89 99.69,710.84 100.42,710.78 101.15,710.71 101.87,710.64 102.60,710.56 103.32,710.48 104.05,710.39 104.78,710.30 105.50,710.19 106.23,710.08 106.95,709.96 107.68,709.83 108.40,709.70 109.13,709.55 109.86,709.39 110.58,709.22 111.31,709.04 112.03,708.85 112.76,708.64 113.48,708.42 114.21,708.19 114.94,707.94 115.66,707.67 116.39,707.39 117.11,707.09 117.84,706.77 118.56,706.43 119.29,706.07 120.02,705.69 120.74,705.29 121.47,704.86 122.19,704.42 122.92,703.94 123.64,703.44 124.37,702.92 125.10,702.37 125.82,701.78 126.55,701.17 127.27,700.53 128.00,699.86 128.73,699.15 129.45,698.42 130.18,697.65 130.90,696.84 131.63,696.00 132.35,695.12 133.08,694.21 133.81,693.25 134.53,692.26 135.26,691.23 135.98,690.16 136.71,689.05 137.43,687.91 138.16,686.72 138.89,685.48 139.61,684.21 140.34,682.90 141.06,681.55 141.79,680.15 142.51,678.72 143.24,677.24 143.97,675.72 144.69,674.17 145.42,672.57 146.14,670.94 146.87,669.27 147.59,667.56 148.32,665.82 149.05,664.04 149.77,662.23 150.50,660.39 151.22,658.52 151.95,656.62 152.68,654.69 153.40,652.74 154.13,650.77 154.85,648.78 155.58,646.77 156.30,644.75 157.03,642.71 157.76,640.66 158.48,638.61 159.21,636.55 159.93,634.49 160.66,632.43 161.38,630.37 162.11,628.33 162.84,626.29 163.56,624.27 164.29,622.27 165.01,620.28 165.74,618.33 166.46,616.40 167.19,614.50 167.92,612.63 168.64,610.81 169.37,609.03 170.09,607.29 170.82,605.60 171.54,603.96 172.27,602.38 173.00,600.85 173.72,599.39 174.45,597.99 175.17,596.66 175.90,595.40 176.63,594.21 177.35,593.09 178.08,592.05 178.80,591.09 179.53,590.22 180.25,589.42 180.98,588.72 181.71,588.10 182.43,587.56 183.16,587.12 183.88,586.76 184.61,586.50 185.33,586.33 186.06,586.25 186.79,586.27 187.51,586.37 188.24,586.57 188.96,586.86 189.69,587.24 190.41,587.70 191.14,588.26 191.87,588.91 192.59,589.64 193.32,590.46 194.04,591.36 194.77,592.34 195.50,593.40 196.22,594.54 196.95,595.75 197.67,597.03 198.40,598.38 199.12,599.80 199.85,601.28 200.58,602.82 201.30,604.42 202.03,606.07 202.75,607.78 203.48,609.53 204.20,611.32 204.93,613.16 205.66,615.03 206.38,616.94 207.11,618.88 207.83,620.84 208.56,622.83 209.28,624.84 210.01,626.87 210.74,628.91 211.46,630.96 212.19,633.01 212.91,635.07 213.64,637.13 214.36,639.19 215.09,641.24 215.82,643.29 216.54,645.32 217.27,647.34 217.99,649.35 218.72,651.33 219.45,653.30 220.17,655.24 220.90,657.16 221.62,659.05 222.35,660.92 223.07,662.75 223.80,664.55 224.53,666.32 225.25,668.05 225.98,669.75 226.70,671.41 227.43,673.03 228.15,674.61 228.88,676.16 229.61,677.66 230.33,679.13 231.06,680.55 231.78,681.93 232.51,683.28 233.23,684.58 233.96,685.84 234.69,687.06 235.41,688.24 236.14,689.37 236.86,690.47 237.59,691.53 238.31,692.55 239.04,693.53 239.77,694.47 240.49,695.37 241.22,696.24 241.94,697.07 242.67,697.87 243.40,698.63 244.12,699.36 244.85,700.05 245.57,700.72 246.30,701.35 247.02,701.95 247.75,702.53 248.48,703.07 249.20,703.59 249.93,704.08 250.65,704.55 251.38,704.99 252.10,705.40 252.83,705.80 253.56,706.17 254.28,706.53 255.01,706.86 255.73,707.17 256.46,707.47 257.18,707.75 257.91,708.01 258.64,708.25 259.36,708.48 260.09,708.70 260.81,708.90 261.54,709.09 262.26,709.27 262.99,709.44 263.72,709.59 264.44,709.74 265.17,709.87" fill="none" stroke="#000" stroke-width="2.15" stroke-linejoin="round"/>
<line x1="190.80" y1="510.79999999999995" x2="190.80" y2="715.3" stroke="#000" stroke-width="2.5" stroke-dasharray="9.7 7.9"/>
</g>
<rect x="53.6" y="520.3" width="278.0" height="195.0" fill="none" stroke="#8a8a8a" stroke-width="1"/>
<clipPath id="c4"><rect x="432.6" y="5.6" width="269.19999999999993" height="196.6"/></clipPath>
<line x1="442.90" y1="202.2" x2="442.90" y2="207.2" stroke="#a0a0a0" stroke-width="1"/>
<text x="442.90" y="222.8" font-size="12" text-anchor="middle" fill="#1a1a1a">20</text>
<line x1="493.30" y1="202.2" x2="493.30" y2="207.2" stroke="#a0a0a0" stroke-width="1"/>
<text x="493.30" y="222.8" font-size="12" text-anchor="middle" fill="#1a1a1a">40</text>
<line x1="543.70" y1="202.2" x2="543.70" y2="207.2" stroke="#a0a0a0" stroke-width="1"/>
<text x="543.70" y="222.8" font-size="12" text-anchor="middle" fill="#1a1a1a">60</text>
<line x1="594.10" y1="202.2" x2="594.10" y2="207.2" stroke="#a0a0a0" stroke-width="1"/>
<text x="594.10" y="222.8" font-size="12" text-anchor="middle" fill="#1a1a1a">80</text>
<line x1="644.50" y1="202.2" x2="644.50" y2="207.2" stroke="#a0a0a0" stroke-width="1"/>
<text x="644.50" y="222.8" font-size="12" text-anchor="middle" fill="#1a1a1a">100</text>
<line x1="694.90" y1="202.2" x2="694.90" y2="207.2" stroke="#a0a0a0" stroke-width="1"/>
<text x="694.90" y="222.8" font-size="12" text-anchor="middle" fill="#1a1a1a">120</text>
<line x1="426.6" y1="12.30" x2="432.6" y2="12.30" stroke="#a0a0a0" stroke-width="1"/>
<text x="422.3" y="15.85" font-size="12" text-anchor="end" fill="#1a1a1a">1.5</text>
<line x1="426.6" y1="42.80" x2="432.6" y2="42.80" stroke="#a0a0a0" stroke-width="1"/>
<text x="422.3" y="46.50" font-size="12" text-anchor="end" fill="#1a1a1a">1.0</text>
<line x1="426.6" y1="73.30" x2="432.6" y2="73.30" stroke="#a0a0a0" stroke-width="1"/>
<text x="422.3" y="77.15" font-size="12" text-anchor="end" fill="#1a1a1a">0.5</text>
<line x1="426.6" y1="103.80" x2="432.6" y2="103.80" stroke="#a0a0a0" stroke-width="1"/>
<text x="422.3" y="107.80" font-size="12" text-anchor="end" fill="#1a1a1a">0.0</text>
<line x1="426.6" y1="134.30" x2="432.6" y2="134.30" stroke="#a0a0a0" stroke-width="1"/>
<text x="422.3" y="138.45" font-size="12" text-anchor="end" fill="#1a1a1a">-0.5</text>
<line x1="426.6" y1="164.80" x2="432.6" y2="164.80" stroke="#a0a0a0" stroke-width="1"/>
<text x="422.3" y="169.10" font-size="12" text-anchor="end" fill="#1a1a1a">-1.0</text>
<line x1="426.6" y1="195.30" x2="432.6" y2="195.30" stroke="#a0a0a0" stroke-width="1"/>
<text x="422.3" y="199.75" font-size="12" text-anchor="end" fill="#1a1a1a">-1.5</text>
<text x="569.6" y="242.2" font-size="14.6" text-anchor="middle" fill="#1a1a1a">avg mGFR</text>
<text transform="translate(391.7,103.9) rotate(-90)" font-size="14.3" text-anchor="middle" fill="#1a1a1a">SCr Minnesota - SCr CRIC</text>
<g clip-path="url(#c4)">
<line x1="432.6" y1="95.26" x2="701.8" y2="95.26" stroke="#111" stroke-width="2.8" stroke-dasharray="10.2 7.4"/>
<line x1="432.6" y1="103.80" x2="701.8" y2="103.80" stroke="#444" stroke-width="1.4" stroke-dasharray="10.2 7.4"/>
<line x1="432.6" y1="123.93" x2="701.8" y2="123.93" stroke="#111" stroke-width="2.8" stroke-dasharray="10.2 7.4"/>
<line x1="432.6" y1="152.60" x2="701.8" y2="152.60" stroke="#111" stroke-width="2.8" stroke-dasharray="10.2 7.4"/>
<circle cx="439.6" cy="135.9" r="2.65"/>
<circle cx="448.1" cy="156.6" r="2.65"/>
<circle cx="468.1" cy="103.9" r="2.65"/>
<circle cx="468.1" cy="115.8" r="2.65"/>
<circle cx="472.2" cy="123.7" r="2.65"/>
<circle cx="465.9" cy="131.3" r="2.65"/>
<circle cx="462.6" cy="140.3" r="2.65"/>
<circle cx="465.9" cy="144.5" r="2.65"/>
<circle cx="473.8" cy="134.2" r="2.65"/>
<circle cx="475.8" cy="136.8" r="2.65"/>
<circle cx="480.4" cy="122.4" r="2.65"/>
<circle cx="480.4" cy="131.3" r="2.65"/>
<circle cx="484.6" cy="134.6" r="2.65"/>
<circle cx="480.4" cy="152.4" r="2.65"/>
<circle cx="482.3" cy="167.5" r="2.65"/>
<circle cx="486.7" cy="107.4" r="2.65"/>
<circle cx="487.6" cy="143.8" r="2.65"/>
<circle cx="493.5" cy="143.8" r="2.65"/>
<circle cx="493.5" cy="115.8" r="2.65"/>
<circle cx="498.8" cy="112.2" r="2.65"/>
<circle cx="493.5" cy="126.7" r="2.65"/>
<circle cx="496.8" cy="131.3" r="2.65"/>
<circle cx="499.4" cy="130.0" r="2.65"/>
<circle cx="501.2" cy="133.9" r="2.65"/>
<circle cx="495.9" cy="159.9" r="2.65"/>
<circle cx="501.2" cy="151.4" r="2.65"/>
<circle cx="504.7" cy="100.4" r="2.65"/>
<circle cx="507.7" cy="92.9" r="2.65"/>
<circle cx="508.0" cy="110.5" r="2.65"/>
<circle cx="504.7" cy="126.1" r="2.65"/>
<circle cx="508.0" cy="128.9" r="2.65"/>
<circle cx="504.7" cy="141.2" r="2.65"/>
<circle cx="510.6" cy="141.2" r="2.65"/>
<circle cx="510.0" cy="148.4" r="2.65"/>
<circle cx="536.5" cy="92.4" r="2.65"/>
<circle cx="540.7" cy="96.8" r="2.65"/>
<circle cx="573.8" cy="87.1" r="2.65"/>
<circle cx="573.8" cy="93.6" r="2.65"/>
<circle cx="602.2" cy="93.6" r="2.65"/>
<circle cx="516.3" cy="155.5" r="2.65"/>
<circle cx="533.4" cy="152.4" r="2.65"/>
<circle cx="546.6" cy="155.0" r="2.65"/>
<circle cx="544.0" cy="159.7" r="2.65"/>
<circle cx="559.0" cy="154.2" r="2.65"/>
<circle cx="564.5" cy="149.3" r="2.65"/>
<circle cx="576.1" cy="150.4" r="2.65"/>
<circle cx="597.1" cy="148.8" r="2.65"/>
<circle cx="611.4" cy="100.3" r="2.65"/>
<circle cx="609.3" cy="107.4" r="2.65"/>
<circle cx="612.2" cy="112.2" r="2.65"/>
<circle cx="610.6" cy="118.5" r="2.65"/>
<circle cx="615.3" cy="119.6" r="2.65"/>
<circle cx="612.2" cy="122.5" r="2.65"/>
<circle cx="610.6" cy="126.4" r="2.65"/>
<circle cx="621.3" cy="125.6" r="2.65"/>
<circle cx="626.1" cy="108.2" r="2.65"/>
<circle cx="628.0" cy="111.7" r="2.65"/>
<circle cx="630.8" cy="105.9" r="2.65"/>
<circle cx="633.5" cy="103.5" r="2.65"/>
<circle cx="635.1" cy="105.9" r="2.65"/>
<circle cx="629.2" cy="118.0" r="2.65"/>
<circle cx="632.4" cy="122.5" r="2.65"/>
<circle cx="637.5" cy="126.4" r="2.65"/>
<circle cx="637.2" cy="114.6" r="2.65"/>
<circle cx="641.9" cy="113.8" r="2.65"/>
<circle cx="632.4" cy="135.4" r="2.65"/>
<circle cx="636.7" cy="139.9" r="2.65"/>
<circle cx="642.2" cy="139.9" r="2.65"/>
<circle cx="654.1" cy="110.1" r="2.65"/>
<circle cx="653.3" cy="114.9" r="2.65"/>
<circle cx="652.0" cy="121.7" r="2.65"/>
<circle cx="663.1" cy="117.7" r="2.65"/>
<circle cx="665.6" cy="119.3" r="2.65"/>
<circle cx="682.2" cy="110.1" r="2.65"/>
<circle cx="684.1" cy="118.0" r="2.65"/>
<circle cx="522.4" cy="101.4" r="2.65"/>
<circle cx="530.1" cy="100.5" r="2.65"/>
<circle cx="544.3" cy="103.6" r="2.65"/>
<circle cx="532.6" cy="104.0" r="2.65"/>
<circle cx="536.1" cy="106.8" r="2.65"/>
<circle cx="559.4" cy="105.4" r="2.65"/>
<circle cx="511.4" cy="104.4" r="2.65"/>
<circle cx="513.9" cy="107.9" r="2.65"/>
<circle cx="516.0" cy="111.1" r="2.65"/>
<circle cx="519.2" cy="114.9" r="2.65"/>
<circle cx="512.1" cy="120.6" r="2.65"/>
<circle cx="527.7" cy="110.4" r="2.65"/>
<circle cx="531.2" cy="111.8" r="2.65"/>
<circle cx="525.5" cy="115.7" r="2.65"/>
<circle cx="534.0" cy="110.0" r="2.65"/>
<circle cx="547.4" cy="108.6" r="2.65"/>
<circle cx="551.7" cy="110.0" r="2.65"/>
<circle cx="558.0" cy="111.4" r="2.65"/>
<circle cx="541.1" cy="113.5" r="2.65"/>
<circle cx="543.9" cy="117.1" r="2.65"/>
<circle cx="548.8" cy="115.7" r="2.65"/>
<circle cx="552.4" cy="118.5" r="2.65"/>
<circle cx="535.4" cy="119.2" r="2.65"/>
<circle cx="539.0" cy="121.3" r="2.65"/>
<circle cx="558.7" cy="120.6" r="2.65"/>
<circle cx="558.7" cy="115.7" r="2.65"/>
<circle cx="519.2" cy="121.3" r="2.65"/>
<circle cx="523.4" cy="122.0" r="2.65"/>
<circle cx="528.4" cy="124.1" r="2.65"/>
<circle cx="534.7" cy="126.2" r="2.65"/>
<circle cx="531.2" cy="128.4" r="2.65"/>
<circle cx="526.9" cy="129.8" r="2.65"/>
<circle cx="546.7" cy="122.7" r="2.65"/>
<circle cx="551.0" cy="124.8" r="2.65"/>
<circle cx="555.2" cy="126.2" r="2.65"/>
<circle cx="558.7" cy="127.7" r="2.65"/>
<circle cx="543.2" cy="121.3" r="2.65"/>
<circle cx="513.5" cy="128.0" r="2.65"/>
<circle cx="516.7" cy="127.0" r="2.65"/>
<circle cx="519.2" cy="134.4" r="2.65"/>
<circle cx="522.4" cy="133.0" r="2.65"/>
<circle cx="525.5" cy="136.8" r="2.65"/>
<circle cx="534.0" cy="134.7" r="2.65"/>
<circle cx="537.5" cy="132.6" r="2.65"/>
<circle cx="533.3" cy="139.0" r="2.65"/>
<circle cx="538.2" cy="139.0" r="2.65"/>
<circle cx="541.1" cy="136.1" r="2.65"/>
<circle cx="543.9" cy="131.9" r="2.65"/>
<circle cx="547.4" cy="133.3" r="2.65"/>
<circle cx="551.0" cy="134.7" r="2.65"/>
<circle cx="548.1" cy="139.7" r="2.65"/>
<circle cx="553.8" cy="137.5" r="2.65"/>
<circle cx="556.6" cy="141.1" r="2.65"/>
<circle cx="553.8" cy="142.5" r="2.65"/>
<circle cx="544.6" cy="129.1" r="2.65"/>
<circle cx="549.5" cy="129.1" r="2.65"/>
<circle cx="553.8" cy="131.2" r="2.65"/>
<circle cx="559.4" cy="134.7" r="2.65"/>
<circle cx="512.8" cy="141.1" r="2.65"/>
<circle cx="517.1" cy="144.6" r="2.65"/>
<circle cx="521.3" cy="143.9" r="2.65"/>
<circle cx="525.5" cy="146.7" r="2.65"/>
<circle cx="510.7" cy="146.7" r="2.65"/>
<circle cx="541.1" cy="146.7" r="2.65"/>
<circle cx="544.6" cy="143.9" r="2.65"/>
<circle cx="559.4" cy="144.6" r="2.65"/>
<circle cx="528.4" cy="114.2" r="2.65"/>
<circle cx="533.3" cy="114.9" r="2.65"/>
<circle cx="538.2" cy="110.7" r="2.65"/>
<circle cx="536.8" cy="115.7" r="2.65"/>
<circle cx="531.2" cy="118.5" r="2.65"/>
<circle cx="539.7" cy="117.8" r="2.65"/>
<circle cx="545.3" cy="112.8" r="2.65"/>
<circle cx="548.1" cy="118.5" r="2.65"/>
<circle cx="555.2" cy="116.4" r="2.65"/>
<circle cx="536.1" cy="136.1" r="2.65"/>
<circle cx="534.0" cy="131.2" r="2.65"/>
<circle cx="541.8" cy="126.2" r="2.65"/>
<circle cx="540.4" cy="130.5" r="2.65"/>
<circle cx="546.7" cy="137.5" r="2.65"/>
<circle cx="552.4" cy="128.4" r="2.65"/>
<circle cx="555.9" cy="134.7" r="2.65"/>
<circle cx="549.5" cy="142.5" r="2.65"/>
<circle cx="510.0" cy="107.2" r="2.65"/>
<circle cx="513.2" cy="110.7" r="2.65"/>
<circle cx="517.1" cy="114.2" r="2.65"/>
<circle cx="529.8" cy="106.5" r="2.65"/>
<circle cx="533.3" cy="107.9" r="2.65"/>
<circle cx="587.2" cy="100.8" r="2.65"/>
<circle cx="570.6" cy="102.6" r="2.65"/>
<circle cx="566.4" cy="105.1" r="2.65"/>
<circle cx="562.1" cy="106.5" r="2.65"/>
<circle cx="573.4" cy="106.5" r="2.65"/>
<circle cx="564.2" cy="110.0" r="2.65"/>
<circle cx="561.4" cy="112.8" r="2.65"/>
<circle cx="567.1" cy="113.5" r="2.65"/>
<circle cx="572.0" cy="111.4" r="2.65"/>
<circle cx="576.2" cy="113.5" r="2.65"/>
<circle cx="579.8" cy="111.8" r="2.65"/>
<circle cx="569.2" cy="117.1" r="2.65"/>
<circle cx="564.2" cy="117.1" r="2.65"/>
<circle cx="560.7" cy="118.5" r="2.65"/>
<circle cx="574.1" cy="117.1" r="2.65"/>
<circle cx="586.8" cy="108.9" r="2.65"/>
<circle cx="592.5" cy="110.4" r="2.65"/>
<circle cx="600.3" cy="108.6" r="2.65"/>
<circle cx="609.4" cy="100.1" r="2.65"/>
<circle cx="588.2" cy="114.2" r="2.65"/>
<circle cx="584.0" cy="118.1" r="2.65"/>
<circle cx="589.0" cy="119.2" r="2.65"/>
<circle cx="597.4" cy="115.7" r="2.65"/>
<circle cx="595.3" cy="119.2" r="2.65"/>
<circle cx="599.5" cy="118.5" r="2.65"/>
<circle cx="605.9" cy="114.2" r="2.65"/>
<circle cx="608.7" cy="117.8" r="2.65"/>
<circle cx="605.2" cy="119.2" r="2.65"/>
<circle cx="608.7" cy="122.0" r="2.65"/>
<circle cx="562.1" cy="122.0" r="2.65"/>
<circle cx="566.4" cy="121.3" r="2.65"/>
<circle cx="570.6" cy="122.0" r="2.65"/>
<circle cx="564.2" cy="126.2" r="2.65"/>
<circle cx="569.2" cy="126.2" r="2.65"/>
<circle cx="561.4" cy="126.2" r="2.65"/>
<circle cx="570.6" cy="129.1" r="2.65"/>
<circle cx="574.1" cy="124.8" r="2.65"/>
<circle cx="578.4" cy="122.0" r="2.65"/>
<circle cx="581.2" cy="124.8" r="2.65"/>
<circle cx="579.1" cy="128.4" r="2.65"/>
<circle cx="588.2" cy="123.4" r="2.65"/>
<circle cx="592.5" cy="122.0" r="2.65"/>
<circle cx="596.7" cy="123.4" r="2.65"/>
<circle cx="601.0" cy="124.1" r="2.65"/>
<circle cx="594.6" cy="127.0" r="2.65"/>
<circle cx="604.8" cy="130.1" r="2.65"/>
<circle cx="574.8" cy="132.6" r="2.65"/>
<circle cx="578.4" cy="131.2" r="2.65"/>
<circle cx="581.9" cy="133.3" r="2.65"/>
<circle cx="586.8" cy="134.0" r="2.65"/>
<circle cx="587.5" cy="137.5" r="2.65"/>
<circle cx="584.7" cy="140.4" r="2.65"/>
<circle cx="581.2" cy="141.1" r="2.65"/>
<circle cx="578.4" cy="142.5" r="2.65"/>
<circle cx="580.5" cy="144.6" r="2.65"/>
<circle cx="594.6" cy="133.3" r="2.65"/>
<circle cx="598.8" cy="132.6" r="2.65"/>
<circle cx="596.7" cy="131.2" r="2.65"/>
<circle cx="561.4" cy="134.7" r="2.65"/>
<circle cx="565.6" cy="137.2" r="2.65"/>
<circle cx="568.5" cy="141.1" r="2.65"/>
<circle cx="573.1" cy="139.0" r="2.65"/>
<circle cx="561.4" cy="144.6" r="2.65"/>
<circle cx="601.7" cy="144.3" r="2.65"/>
<circle cx="565.6" cy="147.4" r="2.65"/>
<circle cx="530.6" cy="102.1" r="2.65"/>
<circle cx="537.3" cy="102.9" r="2.65"/>
<circle cx="527.4" cy="106.5" r="2.65"/>
<circle cx="533.1" cy="112.1" r="2.65"/>
<circle cx="538.9" cy="112.9" r="2.65"/>
<circle cx="538.1" cy="125.9" r="2.65"/>
<circle cx="530.1" cy="132.6" r="2.65"/>
<circle cx="553.6" cy="122.1" r="2.65"/>
<circle cx="536.8" cy="134.8" r="2.65"/>
<circle cx="543.6" cy="136.2" r="2.65"/>
<circle cx="548.2" cy="131.5" r="2.65"/>
<circle cx="550.2" cy="136.5" r="2.65"/>
<circle cx="556.6" cy="137.8" r="2.65"/>
<circle cx="556.8" cy="142.8" r="2.65"/>
<circle cx="560.4" cy="137.4" r="2.65"/>
<circle cx="532.4" cy="116.3" r="2.65"/>
<circle cx="543.7" cy="118.7" r="2.65"/>
<circle cx="546.6" cy="113.7" r="2.65"/>
<circle cx="545.2" cy="116.0" r="2.65"/>
<circle cx="554.5" cy="128.2" r="2.65"/>
<circle cx="546.9" cy="140.7" r="2.65"/>
<circle cx="511.5" cy="111.2" r="2.65"/>
<circle cx="535.2" cy="108.3" r="2.65"/>
<circle cx="560.9" cy="108.7" r="2.65"/>
<circle cx="565.0" cy="111.3" r="2.65"/>
<circle cx="573.4" cy="112.5" r="2.65"/>
<circle cx="571.1" cy="119.7" r="2.65"/>
<circle cx="563.7" cy="118.9" r="2.65"/>
<circle cx="576.0" cy="116.8" r="2.65"/>
<circle cx="581.3" cy="118.3" r="2.65"/>
<circle cx="558.5" cy="125.6" r="2.65"/>
<circle cx="568.7" cy="120.7" r="2.65"/>
<circle cx="574.5" cy="122.2" r="2.65"/>
<circle cx="576.9" cy="119.5" r="2.65"/>
<circle cx="579.5" cy="126.8" r="2.65"/>
<circle cx="592.8" cy="119.4" r="2.65"/>
<circle cx="599.6" cy="122.3" r="2.65"/>
<circle cx="596.7" cy="127.1" r="2.65"/>
<circle cx="574.8" cy="135.1" r="2.65"/>
<circle cx="578.8" cy="134.0" r="2.65"/>
<circle cx="582.9" cy="137.9" r="2.65"/>
</g>
<rect x="432.6" y="5.6" width="269.19999999999993" height="196.6" fill="none" stroke="#8a8a8a" stroke-width="1"/>
<clipPath id="c5"><rect x="432.5" y="258.7" width="269.20000000000005" height="196.2"/></clipPath>
<line x1="444.75" y1="454.9" x2="444.75" y2="459.9" stroke="#a0a0a0" stroke-width="1"/>
<text x="444.75" y="474.8" font-size="12" text-anchor="middle" fill="#1a1a1a">20</text>
<line x1="494.75" y1="454.9" x2="494.75" y2="459.9" stroke="#a0a0a0" stroke-width="1"/>
<text x="494.75" y="474.8" font-size="12" text-anchor="middle" fill="#1a1a1a">40</text>
<line x1="544.75" y1="454.9" x2="544.75" y2="459.9" stroke="#a0a0a0" stroke-width="1"/>
<text x="544.75" y="474.8" font-size="12" text-anchor="middle" fill="#1a1a1a">60</text>
<line x1="594.75" y1="454.9" x2="594.75" y2="459.9" stroke="#a0a0a0" stroke-width="1"/>
<text x="594.75" y="474.8" font-size="12" text-anchor="middle" fill="#1a1a1a">80</text>
<line x1="644.75" y1="454.9" x2="644.75" y2="459.9" stroke="#a0a0a0" stroke-width="1"/>
<text x="644.75" y="474.8" font-size="12" text-anchor="middle" fill="#1a1a1a">100</text>
<line x1="694.75" y1="454.9" x2="694.75" y2="459.9" stroke="#a0a0a0" stroke-width="1"/>
<text x="694.75" y="474.8" font-size="12" text-anchor="middle" fill="#1a1a1a">120</text>
<line x1="426.5" y1="265.12" x2="432.5" y2="265.12" stroke="#a0a0a0" stroke-width="1"/>
<text x="422.3" y="268.90" font-size="12" text-anchor="end" fill="#1a1a1a">1.5</text>
<line x1="426.5" y1="295.75" x2="432.5" y2="295.75" stroke="#a0a0a0" stroke-width="1"/>
<text x="422.3" y="299.60" font-size="12" text-anchor="end" fill="#1a1a1a">1.0</text>
<line x1="426.5" y1="326.38" x2="432.5" y2="326.38" stroke="#a0a0a0" stroke-width="1"/>
<text x="422.3" y="330.30" font-size="12" text-anchor="end" fill="#1a1a1a">0.5</text>
<line x1="426.5" y1="357.00" x2="432.5" y2="357.00" stroke="#a0a0a0" stroke-width="1"/>
<text x="422.3" y="361.00" font-size="12" text-anchor="end" fill="#1a1a1a">0.0</text>
<line x1="426.5" y1="387.62" x2="432.5" y2="387.62" stroke="#a0a0a0" stroke-width="1"/>
<text x="422.3" y="391.70" font-size="12" text-anchor="end" fill="#1a1a1a">-0.5</text>
<line x1="426.5" y1="418.25" x2="432.5" y2="418.25" stroke="#a0a0a0" stroke-width="1"/>
<text x="422.3" y="422.40" font-size="12" text-anchor="end" fill="#1a1a1a">-1.0</text>
<line x1="426.5" y1="448.88" x2="432.5" y2="448.88" stroke="#a0a0a0" stroke-width="1"/>
<text x="422.3" y="453.10" font-size="12" text-anchor="end" fill="#1a1a1a">-1.5</text>
<text x="569.6" y="494.4" font-size="14.6" text-anchor="middle" fill="#1a1a1a">avg mGFR</text>
<text transform="translate(391.7,356.8) rotate(-90)" font-size="14.3" text-anchor="middle" fill="#1a1a1a">SCr EKFC - SCr CRIC</text>
<g clip-path="url(#c5)">
<line x1="432.5" y1="340.46" x2="701.7" y2="340.46" stroke="#111" stroke-width="2.8" stroke-dasharray="10.2 7.4"/>
<line x1="432.5" y1="357.00" x2="701.7" y2="357.00" stroke="#444" stroke-width="1.4" stroke-dasharray="10.2 7.4"/>
<line x1="432.5" y1="374.76" x2="701.7" y2="374.76" stroke="#111" stroke-width="2.8" stroke-dasharray="10.2 7.4"/>
<line x1="432.5" y1="407.84" x2="701.7" y2="407.84" stroke="#111" stroke-width="2.8" stroke-dasharray="10.2 7.4"/>
<circle cx="470.3" cy="286.3" r="2.65"/>
<circle cx="449.5" cy="303.0" r="2.65"/>
<circle cx="472.5" cy="310.4" r="2.65"/>
<circle cx="501.2" cy="304.8" r="2.65"/>
<circle cx="482.4" cy="328.0" r="2.65"/>
<circle cx="439.6" cy="335.4" r="2.65"/>
<circle cx="480.3" cy="340.0" r="2.65"/>
<circle cx="501.2" cy="338.0" r="2.65"/>
<circle cx="526.5" cy="336.9" r="2.65"/>
<circle cx="485.7" cy="353.5" r="2.65"/>
<circle cx="498.7" cy="356.4" r="2.65"/>
<circle cx="469.4" cy="363.1" r="2.65"/>
<circle cx="496.8" cy="363.1" r="2.65"/>
<circle cx="496.8" cy="365.5" r="2.65"/>
<circle cx="484.6" cy="367.6" r="2.65"/>
<circle cx="477.1" cy="370.1" r="2.65"/>
<circle cx="493.7" cy="373.0" r="2.65"/>
<circle cx="489.5" cy="374.7" r="2.65"/>
<circle cx="488.8" cy="377.2" r="2.65"/>
<circle cx="505.3" cy="375.1" r="2.65"/>
<circle cx="465.8" cy="386.4" r="2.65"/>
<circle cx="479.3" cy="389.9" r="2.65"/>
<circle cx="497.0" cy="385.7" r="2.65"/>
<circle cx="502.2" cy="396.3" r="2.65"/>
<circle cx="515.3" cy="400.8" r="2.65"/>
<circle cx="462.4" cy="404.0" r="2.65"/>
<circle cx="471.1" cy="406.4" r="2.65"/>
<circle cx="481.4" cy="406.4" r="2.65"/>
<circle cx="491.2" cy="404.0" r="2.65"/>
<circle cx="524.1" cy="406.4" r="2.65"/>
<circle cx="529.8" cy="405.7" r="2.65"/>
<circle cx="518.7" cy="413.1" r="2.65"/>
<circle cx="514.5" cy="418.2" r="2.65"/>
<circle cx="505.7" cy="418.2" r="2.65"/>
<circle cx="502.2" cy="422.0" r="2.65"/>
<circle cx="552.2" cy="324.3" r="2.65"/>
<circle cx="535.5" cy="339.8" r="2.65"/>
<circle cx="546.1" cy="339.8" r="2.65"/>
<circle cx="573.7" cy="342.7" r="2.65"/>
<circle cx="570.6" cy="345.9" r="2.65"/>
<circle cx="575.1" cy="349.0" r="2.65"/>
<circle cx="545.1" cy="346.9" r="2.65"/>
<circle cx="548.2" cy="349.0" r="2.65"/>
<circle cx="543.3" cy="349.3" r="2.65"/>
<circle cx="534.1" cy="350.1" r="2.65"/>
<circle cx="537.7" cy="401.3" r="2.65"/>
<circle cx="544.0" cy="402.0" r="2.65"/>
<circle cx="561.0" cy="402.0" r="2.65"/>
<circle cx="556.0" cy="405.8" r="2.65"/>
<circle cx="530.6" cy="404.8" r="2.65"/>
<circle cx="520.0" cy="413.3" r="2.65"/>
<circle cx="580.5" cy="408.6" r="2.65"/>
<circle cx="590.3" cy="400.6" r="2.65"/>
<circle cx="644.4" cy="378.0" r="2.65"/>
<circle cx="651.4" cy="372.3" r="2.65"/>
<circle cx="655.0" cy="373.7" r="2.65"/>
<circle cx="661.0" cy="375.1" r="2.65"/>
<circle cx="667.4" cy="381.1" r="2.65"/>
<circle cx="681.8" cy="378.7" r="2.65"/>
<circle cx="685.6" cy="386.4" r="2.65"/>
<circle cx="507.1" cy="356.7" r="2.65"/>
<circle cx="510.3" cy="355.6" r="2.65"/>
<circle cx="515.2" cy="354.6" r="2.65"/>
<circle cx="514.2" cy="357.4" r="2.65"/>
<circle cx="508.9" cy="361.3" r="2.65"/>
<circle cx="523.0" cy="357.8" r="2.65"/>
<circle cx="529.7" cy="351.4" r="2.65"/>
<circle cx="531.1" cy="354.6" r="2.65"/>
<circle cx="548.8" cy="350.4" r="2.65"/>
<circle cx="554.4" cy="354.2" r="2.65"/>
<circle cx="537.8" cy="353.2" r="2.65"/>
<circle cx="538.2" cy="357.1" r="2.65"/>
<circle cx="540.3" cy="359.9" r="2.65"/>
<circle cx="544.5" cy="357.8" r="2.65"/>
<circle cx="548.1" cy="357.8" r="2.65"/>
<circle cx="532.2" cy="362.7" r="2.65"/>
<circle cx="532.5" cy="365.9" r="2.65"/>
<circle cx="536.8" cy="364.1" r="2.65"/>
<circle cx="542.4" cy="363.4" r="2.65"/>
<circle cx="546.7" cy="364.1" r="2.65"/>
<circle cx="550.2" cy="364.8" r="2.65"/>
<circle cx="553.7" cy="366.2" r="2.65"/>
<circle cx="538.2" cy="368.4" r="2.65"/>
<circle cx="551.6" cy="370.5" r="2.65"/>
<circle cx="554.4" cy="371.2" r="2.65"/>
<circle cx="519.8" cy="365.2" r="2.65"/>
<circle cx="524.8" cy="365.2" r="2.65"/>
<circle cx="526.9" cy="367.7" r="2.65"/>
<circle cx="514.2" cy="368.4" r="2.65"/>
<circle cx="517.0" cy="370.5" r="2.65"/>
<circle cx="512.1" cy="372.6" r="2.65"/>
<circle cx="511.7" cy="378.2" r="2.65"/>
<circle cx="515.6" cy="374.7" r="2.65"/>
<circle cx="516.7" cy="378.2" r="2.65"/>
<circle cx="534.0" cy="371.9" r="2.65"/>
<circle cx="534.7" cy="375.4" r="2.65"/>
<circle cx="541.0" cy="372.6" r="2.65"/>
<circle cx="544.5" cy="371.9" r="2.65"/>
<circle cx="548.1" cy="374.0" r="2.65"/>
<circle cx="550.2" cy="377.5" r="2.65"/>
<circle cx="547.4" cy="379.7" r="2.65"/>
<circle cx="543.1" cy="375.4" r="2.65"/>
<circle cx="522.7" cy="376.8" r="2.65"/>
<circle cx="524.1" cy="379.7" r="2.65"/>
<circle cx="526.9" cy="381.8" r="2.65"/>
<circle cx="529.0" cy="383.9" r="2.65"/>
<circle cx="527.6" cy="386.7" r="2.65"/>
<circle cx="531.8" cy="383.2" r="2.65"/>
<circle cx="535.4" cy="381.1" r="2.65"/>
<circle cx="537.5" cy="383.9" r="2.65"/>
<circle cx="538.2" cy="378.2" r="2.65"/>
<circle cx="508.9" cy="384.3" r="2.65"/>
<circle cx="516.7" cy="385.3" r="2.65"/>
<circle cx="520.5" cy="386.4" r="2.65"/>
<circle cx="509.9" cy="389.9" r="2.65"/>
<circle cx="541.0" cy="385.3" r="2.65"/>
<circle cx="544.5" cy="386.7" r="2.65"/>
<circle cx="548.8" cy="383.9" r="2.65"/>
<circle cx="552.3" cy="383.2" r="2.65"/>
<circle cx="554.4" cy="380.4" r="2.65"/>
<circle cx="553.7" cy="386.7" r="2.65"/>
<circle cx="550.9" cy="389.5" r="2.65"/>
<circle cx="547.4" cy="391.7" r="2.65"/>
<circle cx="543.1" cy="389.5" r="2.65"/>
<circle cx="538.2" cy="391.7" r="2.65"/>
<circle cx="540.0" cy="395.9" r="2.65"/>
<circle cx="550.9" cy="396.6" r="2.65"/>
<circle cx="554.4" cy="392.4" r="2.65"/>
<circle cx="526.5" cy="398.0" r="2.65"/>
<circle cx="515.2" cy="399.4" r="2.65"/>
<circle cx="536.8" cy="399.4" r="2.65"/>
<circle cx="556.4" cy="353.5" r="2.65"/>
<circle cx="569.5" cy="353.2" r="2.65"/>
<circle cx="557.1" cy="358.5" r="2.65"/>
<circle cx="568.4" cy="359.2" r="2.65"/>
<circle cx="575.1" cy="358.5" r="2.65"/>
<circle cx="576.2" cy="362.0" r="2.65"/>
<circle cx="569.8" cy="362.7" r="2.65"/>
<circle cx="557.1" cy="363.4" r="2.65"/>
<circle cx="560.6" cy="365.2" r="2.65"/>
<circle cx="564.9" cy="366.2" r="2.65"/>
<circle cx="556.4" cy="367.7" r="2.65"/>
<circle cx="589.6" cy="362.4" r="2.65"/>
<circle cx="598.1" cy="363.4" r="2.65"/>
<circle cx="602.3" cy="360.9" r="2.65"/>
<circle cx="594.5" cy="366.2" r="2.65"/>
<circle cx="600.2" cy="367.7" r="2.65"/>
<circle cx="604.4" cy="367.7" r="2.65"/>
<circle cx="578.3" cy="366.9" r="2.65"/>
<circle cx="574.8" cy="369.8" r="2.65"/>
<circle cx="568.4" cy="370.5" r="2.65"/>
<circle cx="564.2" cy="371.2" r="2.65"/>
<circle cx="584.0" cy="369.1" r="2.65"/>
<circle cx="588.2" cy="368.4" r="2.65"/>
<circle cx="591.7" cy="370.5" r="2.65"/>
<circle cx="583.2" cy="372.6" r="2.65"/>
<circle cx="561.4" cy="374.0" r="2.65"/>
<circle cx="557.1" cy="376.1" r="2.65"/>
<circle cx="567.0" cy="374.7" r="2.65"/>
<circle cx="559.2" cy="379.7" r="2.65"/>
<circle cx="556.4" cy="381.1" r="2.65"/>
<circle cx="568.4" cy="378.2" r="2.65"/>
<circle cx="572.7" cy="378.2" r="2.65"/>
<circle cx="575.5" cy="373.3" r="2.65"/>
<circle cx="576.2" cy="375.4" r="2.65"/>
<circle cx="582.5" cy="376.1" r="2.65"/>
<circle cx="585.4" cy="378.2" r="2.65"/>
<circle cx="590.3" cy="374.7" r="2.65"/>
<circle cx="593.1" cy="377.5" r="2.65"/>
<circle cx="596.7" cy="375.4" r="2.65"/>
<circle cx="600.2" cy="376.8" r="2.65"/>
<circle cx="603.7" cy="377.5" r="2.65"/>
<circle cx="604.4" cy="373.3" r="2.65"/>
<circle cx="597.4" cy="371.2" r="2.65"/>
<circle cx="603.7" cy="381.8" r="2.65"/>
<circle cx="562.8" cy="382.5" r="2.65"/>
<circle cx="565.6" cy="384.6" r="2.65"/>
<circle cx="569.1" cy="382.5" r="2.65"/>
<circle cx="572.7" cy="381.8" r="2.65"/>
<circle cx="576.2" cy="381.1" r="2.65"/>
<circle cx="579.7" cy="382.5" r="2.65"/>
<circle cx="583.2" cy="381.1" r="2.65"/>
<circle cx="570.5" cy="386.7" r="2.65"/>
<circle cx="576.9" cy="386.7" r="2.65"/>
<circle cx="579.7" cy="385.3" r="2.65"/>
<circle cx="587.5" cy="385.3" r="2.65"/>
<circle cx="594.5" cy="385.7" r="2.65"/>
<circle cx="603.7" cy="385.3" r="2.65"/>
<circle cx="597.4" cy="390.6" r="2.65"/>
<circle cx="562.8" cy="389.5" r="2.65"/>
<circle cx="565.2" cy="393.1" r="2.65"/>
<circle cx="576.9" cy="391.0" r="2.65"/>
<circle cx="579.0" cy="393.1" r="2.65"/>
<circle cx="584.7" cy="396.3" r="2.65"/>
<circle cx="558.2" cy="398.7" r="2.65"/>
<circle cx="603.0" cy="393.1" r="2.65"/>
<circle cx="600.9" cy="397.3" r="2.65"/>
<circle cx="613.7" cy="351.4" r="2.65"/>
<circle cx="606.3" cy="369.8" r="2.65"/>
<circle cx="608.4" cy="380.4" r="2.65"/>
<circle cx="609.1" cy="376.1" r="2.65"/>
<circle cx="611.9" cy="374.0" r="2.65"/>
<circle cx="616.2" cy="374.0" r="2.65"/>
<circle cx="615.8" cy="364.5" r="2.65"/>
<circle cx="611.9" cy="367.3" r="2.65"/>
<circle cx="616.9" cy="369.8" r="2.65"/>
<circle cx="634.5" cy="357.4" r="2.65"/>
<circle cx="630.0" cy="363.1" r="2.65"/>
<circle cx="633.8" cy="363.4" r="2.65"/>
<circle cx="630.7" cy="367.7" r="2.65"/>
<circle cx="637.4" cy="368.4" r="2.65"/>
<circle cx="642.3" cy="367.7" r="2.65"/>
<circle cx="628.9" cy="373.3" r="2.65"/>
<circle cx="636.7" cy="372.6" r="2.65"/>
<circle cx="626.4" cy="377.5" r="2.65"/>
<circle cx="614.4" cy="384.3" r="2.65"/>
<circle cx="619.4" cy="385.3" r="2.65"/>
<circle cx="610.2" cy="396.3" r="2.65"/>
<circle cx="635.6" cy="387.8" r="2.65"/>
<circle cx="641.3" cy="393.1" r="2.65"/>
<circle cx="536.2" cy="355.1" r="2.65"/>
<circle cx="541.4" cy="356.0" r="2.65"/>
<circle cx="544.3" cy="353.9" r="2.65"/>
<circle cx="550.0" cy="358.1" r="2.65"/>
<circle cx="534.8" cy="365.0" r="2.65"/>
<circle cx="541.2" cy="363.7" r="2.65"/>
<circle cx="544.5" cy="363.5" r="2.65"/>
<circle cx="553.0" cy="370.0" r="2.65"/>
<circle cx="515.5" cy="372.6" r="2.65"/>
<circle cx="520.1" cy="377.9" r="2.65"/>
<circle cx="540.0" cy="376.8" r="2.65"/>
<circle cx="542.1" cy="371.3" r="2.65"/>
<circle cx="548.5" cy="378.8" r="2.65"/>
<circle cx="526.2" cy="384.0" r="2.65"/>
<circle cx="537.9" cy="381.1" r="2.65"/>
<circle cx="536.7" cy="385.1" r="2.65"/>
<circle cx="540.2" cy="387.1" r="2.65"/>
<circle cx="552.3" cy="379.9" r="2.65"/>
<circle cx="552.2" cy="388.4" r="2.65"/>
<circle cx="549.2" cy="395.5" r="2.65"/>
<circle cx="544.1" cy="392.2" r="2.65"/>
<circle cx="564.3" cy="363.4" r="2.65"/>
<circle cx="555.5" cy="369.0" r="2.65"/>
<circle cx="591.6" cy="365.8" r="2.65"/>
<circle cx="602.4" cy="369.4" r="2.65"/>
<circle cx="605.4" cy="364.4" r="2.65"/>
<circle cx="572.4" cy="371.4" r="2.65"/>
<circle cx="589.5" cy="369.2" r="2.65"/>
<circle cx="581.2" cy="375.9" r="2.65"/>
<circle cx="559.9" cy="373.6" r="2.65"/>
<circle cx="554.3" cy="375.7" r="2.65"/>
<circle cx="574.7" cy="378.1" r="2.65"/>
<circle cx="574.4" cy="374.0" r="2.65"/>
<circle cx="588.9" cy="379.5" r="2.65"/>
<circle cx="592.3" cy="375.1" r="2.65"/>
<circle cx="598.2" cy="374.6" r="2.65"/>
<circle cx="605.2" cy="378.7" r="2.65"/>
<circle cx="606.4" cy="376.0" r="2.65"/>
<circle cx="596.9" cy="373.0" r="2.65"/>
<circle cx="566.1" cy="382.5" r="2.65"/>
<circle cx="567.4" cy="384.3" r="2.65"/>
<circle cx="571.3" cy="382.0" r="2.65"/>
<circle cx="585.6" cy="380.5" r="2.65"/>
<circle cx="569.0" cy="386.7" r="2.65"/>
<circle cx="578.0" cy="387.4" r="2.65"/>
<circle cx="604.4" cy="372.1" r="2.65"/>
<circle cx="608.8" cy="377.8" r="2.65"/>
<circle cx="607.6" cy="373.7" r="2.65"/>
<circle cx="611.6" cy="369.2" r="2.65"/>
</g>
<rect x="432.5" y="258.7" width="269.20000000000005" height="196.2" fill="none" stroke="#8a8a8a" stroke-width="1"/>
<clipPath id="c6"><rect x="432.6" y="512.1" width="269.29999999999995" height="196.10000000000002"/></clipPath>
<line x1="447.25" y1="708.2" x2="447.25" y2="713.2" stroke="#a0a0a0" stroke-width="1"/>
<text x="447.25" y="729.3" font-size="12" text-anchor="middle" fill="#1a1a1a">20</text>
<line x1="496.85" y1="708.2" x2="496.85" y2="713.2" stroke="#a0a0a0" stroke-width="1"/>
<text x="496.85" y="729.3" font-size="12" text-anchor="middle" fill="#1a1a1a">40</text>
<line x1="546.45" y1="708.2" x2="546.45" y2="713.2" stroke="#a0a0a0" stroke-width="1"/>
<text x="546.45" y="729.3" font-size="12" text-anchor="middle" fill="#1a1a1a">60</text>
<line x1="596.05" y1="708.2" x2="596.05" y2="713.2" stroke="#a0a0a0" stroke-width="1"/>
<text x="596.05" y="729.3" font-size="12" text-anchor="middle" fill="#1a1a1a">80</text>
<line x1="645.65" y1="708.2" x2="645.65" y2="713.2" stroke="#a0a0a0" stroke-width="1"/>
<text x="645.65" y="729.3" font-size="12" text-anchor="middle" fill="#1a1a1a">100</text>
<line x1="695.25" y1="708.2" x2="695.25" y2="713.2" stroke="#a0a0a0" stroke-width="1"/>
<text x="695.25" y="729.3" font-size="12" text-anchor="middle" fill="#1a1a1a">120</text>
<line x1="426.6" y1="518.90" x2="432.6" y2="518.90" stroke="#a0a0a0" stroke-width="1"/>
<text x="422.3" y="521.90" font-size="12" text-anchor="end" fill="#1a1a1a">1.5</text>
<line x1="426.6" y1="549.60" x2="432.6" y2="549.60" stroke="#a0a0a0" stroke-width="1"/>
<text x="422.3" y="552.60" font-size="12" text-anchor="end" fill="#1a1a1a">1.0</text>
<line x1="426.6" y1="579.30" x2="432.6" y2="579.30" stroke="#a0a0a0" stroke-width="1"/>
<text x="422.3" y="583.30" font-size="12" text-anchor="end" fill="#1a1a1a">0.5</text>
<line x1="426.6" y1="610.00" x2="432.6" y2="610.00" stroke="#a0a0a0" stroke-width="1"/>
<text x="422.3" y="614.00" font-size="12" text-anchor="end" fill="#1a1a1a">0.0</text>
<line x1="426.6" y1="640.70" x2="432.6" y2="640.70" stroke="#a0a0a0" stroke-width="1"/>
<text x="422.3" y="644.70" font-size="12" text-anchor="end" fill="#1a1a1a">-0.5</text>
<line x1="426.6" y1="671.40" x2="432.6" y2="671.40" stroke="#a0a0a0" stroke-width="1"/>
<text x="422.3" y="675.40" font-size="12" text-anchor="end" fill="#1a1a1a">-1.0</text>
<line x1="426.6" y1="702.10" x2="432.6" y2="702.10" stroke="#a0a0a0" stroke-width="1"/>
<text x="422.3" y="706.10" font-size="12" text-anchor="end" fill="#1a1a1a">-1.5</text>
<text x="569.6" y="748.2" font-size="14.6" text-anchor="middle" fill="#1a1a1a">avg mGFR</text>
<text transform="translate(391.7,610.2) rotate(-90)" font-size="14.3" text-anchor="middle" fill="#1a1a1a">SCr Minnesota - SCr EKFC</text>
<g clip-path="url(#c6)">
<line x1="432.6" y1="577.46" x2="701.9" y2="577.46" stroke="#111" stroke-width="2.8" stroke-dasharray="10.2 7.4"/>
<line x1="432.6" y1="610.00" x2="701.9" y2="610.00" stroke="#444" stroke-width="1.4" stroke-dasharray="10.2 7.4"/>
<line x1="432.6" y1="613.07" x2="701.9" y2="613.07" stroke="#111" stroke-width="2.8" stroke-dasharray="10.2 7.4"/>
<line x1="432.6" y1="649.91" x2="701.9" y2="649.91" stroke="#111" stroke-width="2.8" stroke-dasharray="10.2 7.4"/>
<circle cx="505.7" cy="573.8" r="2.65"/>
<circle cx="506.4" cy="579.1" r="2.65"/>
<circle cx="513.5" cy="579.1" r="2.65"/>
<circle cx="528.3" cy="581.2" r="2.65"/>
<circle cx="492.3" cy="596.0" r="2.65"/>
<circle cx="503.3" cy="597.0" r="2.65"/>
<circle cx="509.3" cy="595.3" r="2.65"/>
<circle cx="462.4" cy="600.3" r="2.65"/>
<circle cx="474.7" cy="601.2" r="2.65"/>
<circle cx="466.9" cy="603.8" r="2.65"/>
<circle cx="466.9" cy="608.0" r="2.65"/>
<circle cx="478.2" cy="610.1" r="2.65"/>
<circle cx="475.4" cy="617.9" r="2.65"/>
<circle cx="497.0" cy="605.9" r="2.65"/>
<circle cx="510.0" cy="616.5" r="2.65"/>
<circle cx="495.6" cy="623.6" r="2.65"/>
<circle cx="482.4" cy="624.3" r="2.65"/>
<circle cx="485.3" cy="627.8" r="2.65"/>
<circle cx="488.1" cy="631.3" r="2.65"/>
<circle cx="507.9" cy="633.2" r="2.65"/>
<circle cx="513.5" cy="636.0" r="2.65"/>
<circle cx="498.7" cy="637.7" r="2.65"/>
<circle cx="501.5" cy="637.4" r="2.65"/>
<circle cx="519.9" cy="637.0" r="2.65"/>
<circle cx="520.6" cy="641.2" r="2.65"/>
<circle cx="530.5" cy="635.6" r="2.65"/>
<circle cx="526.9" cy="641.9" r="2.65"/>
<circle cx="500.1" cy="643.3" r="2.65"/>
<circle cx="509.0" cy="643.3" r="2.65"/>
<circle cx="488.1" cy="644.5" r="2.65"/>
<circle cx="482.4" cy="657.5" r="2.65"/>
<circle cx="439.6" cy="663.5" r="2.65"/>
<circle cx="493.5" cy="665.3" r="2.65"/>
<circle cx="484.6" cy="675.5" r="2.65"/>
<circle cx="470.4" cy="688.3" r="2.65"/>
<circle cx="472.5" cy="692.9" r="2.65"/>
<circle cx="499.1" cy="692.9" r="2.65"/>
<circle cx="518.9" cy="662.5" r="2.65"/>
<circle cx="541.2" cy="575.8" r="2.65"/>
<circle cx="543.3" cy="574.5" r="2.65"/>
<circle cx="573.7" cy="578.4" r="2.65"/>
<circle cx="579.3" cy="578.1" r="2.65"/>
<circle cx="556.4" cy="585.8" r="2.65"/>
<circle cx="545.4" cy="635.6" r="2.65"/>
<circle cx="535.5" cy="634.2" r="2.65"/>
<circle cx="550.8" cy="637.4" r="2.65"/>
<circle cx="556.4" cy="634.2" r="2.65"/>
<circle cx="575.1" cy="635.6" r="2.65"/>
<circle cx="521.4" cy="637.0" r="2.65"/>
<circle cx="529.9" cy="640.8" r="2.65"/>
<circle cx="537.7" cy="641.9" r="2.65"/>
<circle cx="540.9" cy="640.9" r="2.65"/>
<circle cx="549.4" cy="644.5" r="2.65"/>
<circle cx="556.4" cy="657.7" r="2.65"/>
<circle cx="684.3" cy="586.8" r="2.65"/>
<circle cx="683.2" cy="602.4" r="2.65"/>
<circle cx="669.8" cy="601.4" r="2.65"/>
<circle cx="658.8" cy="599.3" r="2.65"/>
<circle cx="663.2" cy="605.5" r="2.65"/>
<circle cx="655.4" cy="606.9" r="2.65"/>
<circle cx="654.3" cy="613.0" r="2.65"/>
<circle cx="520.9" cy="588.9" r="2.65"/>
<circle cx="522.7" cy="592.8" r="2.65"/>
<circle cx="523.8" cy="596.3" r="2.65"/>
<circle cx="524.5" cy="599.5" r="2.65"/>
<circle cx="515.3" cy="594.5" r="2.65"/>
<circle cx="510.7" cy="594.9" r="2.65"/>
<circle cx="510.7" cy="597.7" r="2.65"/>
<circle cx="538.6" cy="590.3" r="2.65"/>
<circle cx="532.2" cy="594.5" r="2.65"/>
<circle cx="553.8" cy="592.4" r="2.65"/>
<circle cx="536.5" cy="600.2" r="2.65"/>
<circle cx="546.7" cy="597.7" r="2.65"/>
<circle cx="543.2" cy="600.2" r="2.65"/>
<circle cx="548.1" cy="601.2" r="2.65"/>
<circle cx="552.4" cy="603.4" r="2.65"/>
<circle cx="556.6" cy="604.1" r="2.65"/>
<circle cx="559.4" cy="605.5" r="2.65"/>
<circle cx="514.6" cy="605.1" r="2.65"/>
<circle cx="518.5" cy="603.4" r="2.65"/>
<circle cx="523.4" cy="605.8" r="2.65"/>
<circle cx="530.8" cy="605.8" r="2.65"/>
<circle cx="540.4" cy="605.8" r="2.65"/>
<circle cx="522.7" cy="611.8" r="2.65"/>
<circle cx="526.9" cy="610.4" r="2.65"/>
<circle cx="531.2" cy="611.1" r="2.65"/>
<circle cx="536.1" cy="608.3" r="2.65"/>
<circle cx="534.7" cy="613.2" r="2.65"/>
<circle cx="535.4" cy="616.8" r="2.65"/>
<circle cx="539.7" cy="610.4" r="2.65"/>
<circle cx="543.9" cy="609.0" r="2.65"/>
<circle cx="548.1" cy="607.6" r="2.65"/>
<circle cx="552.4" cy="608.3" r="2.65"/>
<circle cx="555.2" cy="609.7" r="2.65"/>
<circle cx="551.0" cy="612.5" r="2.65"/>
<circle cx="546.7" cy="613.2" r="2.65"/>
<circle cx="542.5" cy="614.7" r="2.65"/>
<circle cx="539.7" cy="617.5" r="2.65"/>
<circle cx="545.3" cy="618.2" r="2.65"/>
<circle cx="549.5" cy="616.8" r="2.65"/>
<circle cx="552.4" cy="615.4" r="2.65"/>
<circle cx="541.1" cy="620.3" r="2.65"/>
<circle cx="545.3" cy="622.4" r="2.65"/>
<circle cx="549.5" cy="621.0" r="2.65"/>
<circle cx="553.8" cy="620.3" r="2.65"/>
<circle cx="557.3" cy="618.9" r="2.65"/>
<circle cx="559.4" cy="621.7" r="2.65"/>
<circle cx="549.5" cy="624.5" r="2.65"/>
<circle cx="553.8" cy="623.8" r="2.65"/>
<circle cx="558.0" cy="624.5" r="2.65"/>
<circle cx="517.8" cy="614.7" r="2.65"/>
<circle cx="519.2" cy="618.2" r="2.65"/>
<circle cx="516.4" cy="619.6" r="2.65"/>
<circle cx="514.2" cy="621.4" r="2.65"/>
<circle cx="524.1" cy="623.1" r="2.65"/>
<circle cx="525.5" cy="626.0" r="2.65"/>
<circle cx="529.8" cy="623.5" r="2.65"/>
<circle cx="535.4" cy="623.5" r="2.65"/>
<circle cx="536.5" cy="626.3" r="2.65"/>
<circle cx="540.7" cy="628.4" r="2.65"/>
<circle cx="541.8" cy="631.6" r="2.65"/>
<circle cx="548.5" cy="630.2" r="2.65"/>
<circle cx="544.6" cy="634.4" r="2.65"/>
<circle cx="516.4" cy="627.7" r="2.65"/>
<circle cx="520.9" cy="630.2" r="2.65"/>
<circle cx="513.5" cy="634.4" r="2.65"/>
<circle cx="531.9" cy="634.4" r="2.65"/>
<circle cx="559.4" cy="631.6" r="2.65"/>
<circle cx="569.2" cy="588.9" r="2.65"/>
<circle cx="574.1" cy="590.3" r="2.65"/>
<circle cx="584.4" cy="588.2" r="2.65"/>
<circle cx="587.5" cy="590.6" r="2.65"/>
<circle cx="601.3" cy="588.9" r="2.65"/>
<circle cx="605.6" cy="590.6" r="2.65"/>
<circle cx="608.7" cy="594.2" r="2.65"/>
<circle cx="563.5" cy="594.9" r="2.65"/>
<circle cx="569.9" cy="593.5" r="2.65"/>
<circle cx="576.9" cy="594.9" r="2.65"/>
<circle cx="569.9" cy="597.7" r="2.65"/>
<circle cx="588.2" cy="597.0" r="2.65"/>
<circle cx="582.6" cy="598.8" r="2.65"/>
<circle cx="592.5" cy="598.8" r="2.65"/>
<circle cx="598.5" cy="598.8" r="2.65"/>
<circle cx="604.1" cy="597.0" r="2.65"/>
<circle cx="603.1" cy="599.8" r="2.65"/>
<circle cx="577.7" cy="600.2" r="2.65"/>
<circle cx="566.4" cy="600.9" r="2.65"/>
<circle cx="561.4" cy="603.4" r="2.65"/>
<circle cx="565.6" cy="604.8" r="2.65"/>
<circle cx="569.2" cy="601.9" r="2.65"/>
<circle cx="561.4" cy="608.3" r="2.65"/>
<circle cx="564.9" cy="609.0" r="2.65"/>
<circle cx="561.4" cy="613.2" r="2.65"/>
<circle cx="564.9" cy="614.0" r="2.65"/>
<circle cx="562.1" cy="616.8" r="2.65"/>
<circle cx="568.5" cy="612.5" r="2.65"/>
<circle cx="569.2" cy="608.3" r="2.65"/>
<circle cx="572.7" cy="608.3" r="2.65"/>
<circle cx="576.2" cy="605.5" r="2.65"/>
<circle cx="578.4" cy="602.7" r="2.65"/>
<circle cx="581.2" cy="604.1" r="2.65"/>
<circle cx="585.4" cy="602.7" r="2.65"/>
<circle cx="589.7" cy="602.7" r="2.65"/>
<circle cx="588.2" cy="606.2" r="2.65"/>
<circle cx="584.7" cy="607.6" r="2.65"/>
<circle cx="577.7" cy="609.7" r="2.65"/>
<circle cx="581.2" cy="611.8" r="2.65"/>
<circle cx="574.1" cy="612.5" r="2.65"/>
<circle cx="572.7" cy="615.4" r="2.65"/>
<circle cx="576.9" cy="615.4" r="2.65"/>
<circle cx="593.2" cy="604.1" r="2.65"/>
<circle cx="597.4" cy="605.5" r="2.65"/>
<circle cx="601.0" cy="603.4" r="2.65"/>
<circle cx="591.8" cy="608.3" r="2.65"/>
<circle cx="596.7" cy="609.0" r="2.65"/>
<circle cx="601.0" cy="608.3" r="2.65"/>
<circle cx="605.2" cy="606.2" r="2.65"/>
<circle cx="608.7" cy="604.1" r="2.65"/>
<circle cx="609.4" cy="608.3" r="2.65"/>
<circle cx="605.2" cy="610.4" r="2.65"/>
<circle cx="601.7" cy="612.5" r="2.65"/>
<circle cx="609.4" cy="613.2" r="2.65"/>
<circle cx="583.3" cy="614.0" r="2.65"/>
<circle cx="586.8" cy="616.1" r="2.65"/>
<circle cx="591.1" cy="613.2" r="2.65"/>
<circle cx="595.3" cy="613.2" r="2.65"/>
<circle cx="593.2" cy="616.8" r="2.65"/>
<circle cx="589.7" cy="618.9" r="2.65"/>
<circle cx="587.5" cy="620.3" r="2.65"/>
<circle cx="591.8" cy="622.4" r="2.65"/>
<circle cx="594.6" cy="623.8" r="2.65"/>
<circle cx="605.2" cy="615.4" r="2.65"/>
<circle cx="603.8" cy="618.9" r="2.65"/>
<circle cx="601.7" cy="621.7" r="2.65"/>
<circle cx="599.5" cy="623.8" r="2.65"/>
<circle cx="607.3" cy="617.5" r="2.65"/>
<circle cx="571.3" cy="618.9" r="2.65"/>
<circle cx="575.5" cy="620.3" r="2.65"/>
<circle cx="579.8" cy="619.6" r="2.65"/>
<circle cx="572.0" cy="622.4" r="2.65"/>
<circle cx="569.2" cy="625.3" r="2.65"/>
<circle cx="567.8" cy="628.8" r="2.65"/>
<circle cx="569.9" cy="630.9" r="2.65"/>
<circle cx="566.4" cy="633.0" r="2.65"/>
<circle cx="561.1" cy="623.8" r="2.65"/>
<circle cx="561.8" cy="630.9" r="2.65"/>
<circle cx="582.6" cy="632.0" r="2.65"/>
<circle cx="610.6" cy="594.9" r="2.65"/>
<circle cx="614.8" cy="593.8" r="2.65"/>
<circle cx="618.0" cy="603.4" r="2.65"/>
<circle cx="615.2" cy="606.2" r="2.65"/>
<circle cx="612.7" cy="609.7" r="2.65"/>
<circle cx="618.0" cy="613.2" r="2.65"/>
<circle cx="628.2" cy="594.9" r="2.65"/>
<circle cx="633.5" cy="600.2" r="2.65"/>
<circle cx="639.9" cy="599.1" r="2.65"/>
<circle cx="644.8" cy="600.2" r="2.65"/>
<circle cx="636.7" cy="603.7" r="2.65"/>
<circle cx="630.0" cy="605.8" r="2.65"/>
<circle cx="632.5" cy="609.7" r="2.65"/>
<circle cx="636.7" cy="609.0" r="2.65"/>
<circle cx="641.0" cy="609.7" r="2.65"/>
<circle cx="645.2" cy="609.4" r="2.65"/>
<circle cx="630.4" cy="613.2" r="2.65"/>
<circle cx="636.7" cy="615.4" r="2.65"/>
<circle cx="639.2" cy="616.8" r="2.65"/>
<circle cx="618.0" cy="620.3" r="2.65"/>
<circle cx="614.5" cy="627.7" r="2.65"/>
<circle cx="627.9" cy="631.3" r="2.65"/>
<circle cx="550.4" cy="601.4" r="2.65"/>
<circle cx="557.7" cy="600.2" r="2.65"/>
<circle cx="559.2" cy="601.6" r="2.65"/>
<circle cx="542.2" cy="606.2" r="2.65"/>
<circle cx="538.4" cy="607.4" r="2.65"/>
<circle cx="534.2" cy="617.0" r="2.65"/>
<circle cx="537.5" cy="609.8" r="2.65"/>
<circle cx="547.4" cy="611.3" r="2.65"/>
<circle cx="543.1" cy="617.1" r="2.65"/>
<circle cx="547.1" cy="616.2" r="2.65"/>
<circle cx="539.5" cy="616.2" r="2.65"/>
<circle cx="546.4" cy="621.5" r="2.65"/>
<circle cx="556.6" cy="621.1" r="2.65"/>
<circle cx="562.0" cy="621.8" r="2.65"/>
<circle cx="548.8" cy="625.8" r="2.65"/>
<circle cx="554.6" cy="622.1" r="2.65"/>
<circle cx="557.2" cy="626.3" r="2.65"/>
<circle cx="540.7" cy="625.2" r="2.65"/>
<circle cx="579.9" cy="595.2" r="2.65"/>
<circle cx="581.1" cy="600.4" r="2.65"/>
<circle cx="605.9" cy="600.8" r="2.65"/>
<circle cx="604.0" cy="602.5" r="2.65"/>
<circle cx="570.0" cy="599.2" r="2.65"/>
<circle cx="560.5" cy="604.7" r="2.65"/>
<circle cx="562.7" cy="604.3" r="2.65"/>
<circle cx="571.4" cy="603.7" r="2.65"/>
<circle cx="568.9" cy="609.9" r="2.65"/>
<circle cx="562.7" cy="614.1" r="2.65"/>
<circle cx="562.0" cy="611.5" r="2.65"/>
<circle cx="560.1" cy="620.0" r="2.65"/>
<circle cx="567.1" cy="612.1" r="2.65"/>
<circle cx="574.1" cy="600.1" r="2.65"/>
<circle cx="583.3" cy="603.9" r="2.65"/>
<circle cx="584.4" cy="603.4" r="2.65"/>
<circle cx="587.0" cy="600.9" r="2.65"/>
<circle cx="586.5" cy="606.7" r="2.65"/>
<circle cx="588.3" cy="608.9" r="2.65"/>
<circle cx="579.6" cy="610.1" r="2.65"/>
<circle cx="570.7" cy="613.2" r="2.65"/>
<circle cx="578.4" cy="616.5" r="2.65"/>
<circle cx="595.1" cy="606.7" r="2.65"/>
<circle cx="596.9" cy="607.3" r="2.65"/>
<circle cx="593.6" cy="608.0" r="2.65"/>
<circle cx="594.0" cy="609.2" r="2.65"/>
<circle cx="599.6" cy="608.5" r="2.65"/>
<circle cx="605.1" cy="607.6" r="2.65"/>
<circle cx="611.7" cy="607.7" r="2.65"/>
<circle cx="603.7" cy="610.4" r="2.65"/>
<circle cx="602.8" cy="613.3" r="2.65"/>
<circle cx="610.1" cy="609.9" r="2.65"/>
<circle cx="581.4" cy="616.2" r="2.65"/>
<circle cx="587.2" cy="613.5" r="2.65"/>
<circle cx="589.6" cy="610.8" r="2.65"/>
<circle cx="593.6" cy="615.3" r="2.65"/>
<circle cx="592.8" cy="618.7" r="2.65"/>
<circle cx="590.0" cy="616.3" r="2.65"/>
<circle cx="586.4" cy="624.3" r="2.65"/>
<circle cx="593.3" cy="622.0" r="2.65"/>
<circle cx="607.3" cy="615.5" r="2.65"/>
<circle cx="603.8" cy="621.4" r="2.65"/>
<circle cx="569.5" cy="616.5" r="2.65"/>
<circle cx="574.1" cy="622.3" r="2.65"/>
<circle cx="559.1" cy="626.5" r="2.65"/>
<circle cx="563.5" cy="629.0" r="2.65"/>
<circle cx="616.9" cy="609.1" r="2.65"/>
<circle cx="634.6" cy="603.5" r="2.65"/>
<circle cx="638.3" cy="611.8" r="2.65"/>
</g>
<rect x="432.6" y="512.1" width="269.29999999999995" height="196.10000000000002" fill="none" stroke="#8a8a8a" stroke-width="1"/>
</svg>
</body></html>
